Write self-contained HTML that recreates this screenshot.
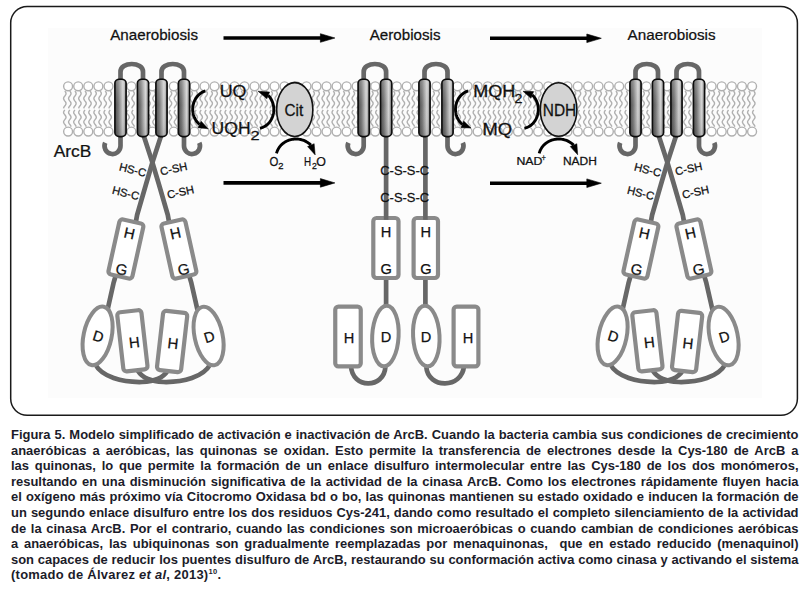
<!DOCTYPE html>
<html><head><meta charset="utf-8"><style>
html,body{margin:0;padding:0;background:#fff;width:807px;height:590px;overflow:hidden;position:relative}
.cap{position:absolute;left:11px;top:0;width:786px;font-family:"Liberation Sans",sans-serif;font-weight:bold;font-size:12px;line-height:15.6px;color:#1c1c2a;letter-spacing:0px}
.l{position:absolute;left:0;top:0;text-align:justify;text-align-last:justify;white-space:nowrap;height:15.6px;width:730.52px;transform:scaleX(1.078);transform-origin:0 0}
.l.last{text-align-last:left;letter-spacing:0.25px}
.cap sup{font-size:7px;vertical-align:5px;line-height:0}
</style></head><body>
<svg width="807" height="420" viewBox="0 0 807 420" style="position:absolute;left:0;top:0"><defs><linearGradient id="hg" x1="0" x2="1" y1="0" y2="0"><stop offset="0" stop-color="#4a4a4a"/><stop offset="0.3" stop-color="#767676"/><stop offset="0.72" stop-color="#d2d2d2"/><stop offset="0.88" stop-color="#a8a8a8"/><stop offset="1" stop-color="#505050"/></linearGradient><linearGradient id="hv" x1="0" x2="0" y1="0" y2="1"><stop offset="0" stop-color="#fff" stop-opacity="0.22"/><stop offset="0.45" stop-color="#fff" stop-opacity="0"/><stop offset="1" stop-color="#000" stop-opacity="0.12"/></linearGradient></defs><rect x="10.7" y="6.5" width="786.7" height="408.8" rx="16.5" fill="#fff" stroke="#1a1a1a" stroke-width="1.5"/><rect x="48" y="28" width="714" height="370" fill="#fcfcfc"/><g fill="#fff" stroke="#b0b0b0" stroke-width="1.4"><circle cx="68.1" cy="86.3" r="4.45"/><circle cx="68.1" cy="131.55" r="4.45"/><path d="M64.8,91.05 L65.59,92.13 L66.03,93.22 L65.9,94.3 L65.28,95.39 L64.44,96.47 L63.76,97.56 L63.56,98.64 L63.92,99.72 L64.68,100.81 L65.49,101.89 L66,102.98 L65.95,104.06 L65.39,105.15 L64.56,106.23 L63.83,107.32 L63.55,108.4 M64.8,110 L64.01,111.05 L63.57,112.1 L63.7,113.15 L64.32,114.2 L65.16,115.25 L65.84,116.3 L66.04,117.35 L65.68,118.4 L64.92,119.45 L64.11,120.5 L63.6,121.55 L63.65,122.6 L64.21,123.65 L65.04,124.7 L65.77,125.75 L66.05,126.8 M69.8,91.05 L70.59,92.13 L71.03,93.22 L70.9,94.3 L70.28,95.39 L69.44,96.47 L68.76,97.56 L68.56,98.64 L68.92,99.72 L69.68,100.81 L70.49,101.89 L71,102.98 L70.95,104.06 L70.39,105.15 L69.56,106.23 L68.83,107.32 L68.55,108.4 M69.8,110 L69.01,111.05 L68.57,112.1 L68.7,113.15 L69.32,114.2 L70.16,115.25 L70.84,116.3 L71.04,117.35 L70.68,118.4 L69.92,119.45 L69.11,120.5 L68.6,121.55 L68.65,122.6 L69.21,123.65 L70.04,124.7 L70.77,125.75 L71.05,126.8" fill="none"/><circle cx="78.2" cy="86.3" r="4.45"/><circle cx="78.2" cy="131.55" r="4.45"/><path d="M74.9,91.05 L75.69,92.13 L76.13,93.22 L76,94.3 L75.38,95.39 L74.54,96.47 L73.86,97.56 L73.66,98.64 L74.02,99.72 L74.78,100.81 L75.59,101.89 L76.1,102.98 L76.05,104.06 L75.49,105.15 L74.66,106.23 L73.93,107.32 L73.65,108.4 M74.9,110 L74.11,111.05 L73.67,112.1 L73.8,113.15 L74.42,114.2 L75.26,115.25 L75.94,116.3 L76.14,117.35 L75.78,118.4 L75.02,119.45 L74.21,120.5 L73.7,121.55 L73.75,122.6 L74.31,123.65 L75.14,124.7 L75.87,125.75 L76.15,126.8 M79.9,91.05 L80.69,92.13 L81.13,93.22 L81,94.3 L80.38,95.39 L79.54,96.47 L78.86,97.56 L78.66,98.64 L79.02,99.72 L79.78,100.81 L80.59,101.89 L81.1,102.98 L81.05,104.06 L80.49,105.15 L79.66,106.23 L78.93,107.32 L78.65,108.4 M79.9,110 L79.11,111.05 L78.67,112.1 L78.8,113.15 L79.42,114.2 L80.26,115.25 L80.94,116.3 L81.14,117.35 L80.78,118.4 L80.02,119.45 L79.21,120.5 L78.7,121.55 L78.75,122.6 L79.31,123.65 L80.14,124.7 L80.87,125.75 L81.15,126.8" fill="none"/><circle cx="88.3" cy="86.3" r="4.45"/><circle cx="88.3" cy="131.55" r="4.45"/><path d="M85,91.05 L85.79,92.13 L86.23,93.22 L86.1,94.3 L85.48,95.39 L84.64,96.47 L83.96,97.56 L83.76,98.64 L84.12,99.72 L84.88,100.81 L85.69,101.89 L86.2,102.98 L86.15,104.06 L85.59,105.15 L84.76,106.23 L84.03,107.32 L83.75,108.4 M85,110 L84.21,111.05 L83.77,112.1 L83.9,113.15 L84.52,114.2 L85.36,115.25 L86.04,116.3 L86.24,117.35 L85.88,118.4 L85.12,119.45 L84.31,120.5 L83.8,121.55 L83.85,122.6 L84.41,123.65 L85.24,124.7 L85.97,125.75 L86.25,126.8 M90,91.05 L90.79,92.13 L91.23,93.22 L91.1,94.3 L90.48,95.39 L89.64,96.47 L88.96,97.56 L88.76,98.64 L89.12,99.72 L89.88,100.81 L90.69,101.89 L91.2,102.98 L91.15,104.06 L90.59,105.15 L89.76,106.23 L89.03,107.32 L88.75,108.4 M90,110 L89.21,111.05 L88.77,112.1 L88.9,113.15 L89.52,114.2 L90.36,115.25 L91.04,116.3 L91.24,117.35 L90.88,118.4 L90.12,119.45 L89.31,120.5 L88.8,121.55 L88.85,122.6 L89.41,123.65 L90.24,124.7 L90.97,125.75 L91.25,126.8" fill="none"/><circle cx="98.4" cy="86.3" r="4.45"/><circle cx="98.4" cy="131.55" r="4.45"/><path d="M95.1,91.05 L95.89,92.13 L96.33,93.22 L96.2,94.3 L95.58,95.39 L94.74,96.47 L94.06,97.56 L93.86,98.64 L94.22,99.72 L94.98,100.81 L95.79,101.89 L96.3,102.98 L96.25,104.06 L95.69,105.15 L94.86,106.23 L94.13,107.32 L93.85,108.4 M95.1,110 L94.31,111.05 L93.87,112.1 L94,113.15 L94.62,114.2 L95.46,115.25 L96.14,116.3 L96.34,117.35 L95.98,118.4 L95.22,119.45 L94.41,120.5 L93.9,121.55 L93.95,122.6 L94.51,123.65 L95.34,124.7 L96.07,125.75 L96.35,126.8 M100.1,91.05 L100.89,92.13 L101.33,93.22 L101.2,94.3 L100.58,95.39 L99.74,96.47 L99.06,97.56 L98.86,98.64 L99.22,99.72 L99.98,100.81 L100.79,101.89 L101.3,102.98 L101.25,104.06 L100.69,105.15 L99.86,106.23 L99.13,107.32 L98.85,108.4 M100.1,110 L99.31,111.05 L98.87,112.1 L99,113.15 L99.62,114.2 L100.46,115.25 L101.14,116.3 L101.34,117.35 L100.98,118.4 L100.22,119.45 L99.41,120.5 L98.9,121.55 L98.95,122.6 L99.51,123.65 L100.34,124.7 L101.07,125.75 L101.35,126.8" fill="none"/><circle cx="108.5" cy="86.3" r="4.45"/><circle cx="108.5" cy="131.55" r="4.45"/><path d="M105.2,91.05 L105.99,92.13 L106.43,93.22 L106.3,94.3 L105.68,95.39 L104.84,96.47 L104.16,97.56 L103.96,98.64 L104.32,99.72 L105.08,100.81 L105.89,101.89 L106.4,102.98 L106.35,104.06 L105.79,105.15 L104.96,106.23 L104.23,107.32 L103.95,108.4 M105.2,110 L104.41,111.05 L103.97,112.1 L104.1,113.15 L104.72,114.2 L105.56,115.25 L106.24,116.3 L106.44,117.35 L106.08,118.4 L105.32,119.45 L104.51,120.5 L104,121.55 L104.05,122.6 L104.61,123.65 L105.44,124.7 L106.17,125.75 L106.45,126.8 M110.2,91.05 L110.99,92.13 L111.43,93.22 L111.3,94.3 L110.68,95.39 L109.84,96.47 L109.16,97.56 L108.96,98.64 L109.32,99.72 L110.08,100.81 L110.89,101.89 L111.4,102.98 L111.35,104.06 L110.79,105.15 L109.96,106.23 L109.23,107.32 L108.95,108.4 M110.2,110 L109.41,111.05 L108.97,112.1 L109.1,113.15 L109.72,114.2 L110.56,115.25 L111.24,116.3 L111.44,117.35 L111.08,118.4 L110.32,119.45 L109.51,120.5 L109,121.55 L109.05,122.6 L109.61,123.65 L110.44,124.7 L111.17,125.75 L111.45,126.8" fill="none"/><circle cx="131.4" cy="86.3" r="4.45"/><circle cx="131.4" cy="131.55" r="4.45"/><path d="M128.1,91.05 L128.89,92.13 L129.33,93.22 L129.2,94.3 L128.58,95.39 L127.74,96.47 L127.06,97.56 L126.86,98.64 L127.22,99.72 L127.98,100.81 L128.79,101.89 L129.3,102.98 L129.25,104.06 L128.69,105.15 L127.86,106.23 L127.13,107.32 L126.85,108.4 M128.1,110 L127.31,111.05 L126.87,112.1 L127,113.15 L127.62,114.2 L128.46,115.25 L129.14,116.3 L129.34,117.35 L128.98,118.4 L128.22,119.45 L127.41,120.5 L126.9,121.55 L126.95,122.6 L127.51,123.65 L128.34,124.7 L129.07,125.75 L129.35,126.8 M133.1,91.05 L133.89,92.13 L134.33,93.22 L134.2,94.3 L133.58,95.39 L132.74,96.47 L132.06,97.56 L131.86,98.64 L132.22,99.72 L132.98,100.81 L133.79,101.89 L134.3,102.98 L134.25,104.06 L133.69,105.15 L132.86,106.23 L132.13,107.32 L131.85,108.4 M133.1,110 L132.31,111.05 L131.87,112.1 L132,113.15 L132.62,114.2 L133.46,115.25 L134.14,116.3 L134.34,117.35 L133.98,118.4 L133.22,119.45 L132.41,120.5 L131.9,121.55 L131.95,122.6 L132.51,123.65 L133.34,124.7 L134.07,125.75 L134.35,126.8" fill="none"/><circle cx="152.3" cy="86.3" r="4.45"/><circle cx="152.3" cy="131.55" r="4.45"/><path d="M149,91.05 L149.79,92.13 L150.23,93.22 L150.1,94.3 L149.48,95.39 L148.64,96.47 L147.96,97.56 L147.76,98.64 L148.12,99.72 L148.88,100.81 L149.69,101.89 L150.2,102.98 L150.15,104.06 L149.59,105.15 L148.76,106.23 L148.03,107.32 L147.75,108.4 M149,110 L148.21,111.05 L147.77,112.1 L147.9,113.15 L148.52,114.2 L149.36,115.25 L150.04,116.3 L150.24,117.35 L149.88,118.4 L149.12,119.45 L148.31,120.5 L147.8,121.55 L147.85,122.6 L148.41,123.65 L149.24,124.7 L149.97,125.75 L150.25,126.8 M154,91.05 L154.79,92.13 L155.23,93.22 L155.1,94.3 L154.48,95.39 L153.64,96.47 L152.96,97.56 L152.76,98.64 L153.12,99.72 L153.88,100.81 L154.69,101.89 L155.2,102.98 L155.15,104.06 L154.59,105.15 L153.76,106.23 L153.03,107.32 L152.75,108.4 M154,110 L153.21,111.05 L152.77,112.1 L152.9,113.15 L153.52,114.2 L154.36,115.25 L155.04,116.3 L155.24,117.35 L154.88,118.4 L154.12,119.45 L153.31,120.5 L152.8,121.55 L152.85,122.6 L153.41,123.65 L154.24,124.7 L154.97,125.75 L155.25,126.8" fill="none"/><circle cx="173.8" cy="86.3" r="4.45"/><circle cx="173.8" cy="131.55" r="4.45"/><path d="M170.5,91.05 L171.29,92.13 L171.73,93.22 L171.6,94.3 L170.98,95.39 L170.14,96.47 L169.46,97.56 L169.26,98.64 L169.62,99.72 L170.38,100.81 L171.19,101.89 L171.7,102.98 L171.65,104.06 L171.09,105.15 L170.26,106.23 L169.53,107.32 L169.25,108.4 M170.5,110 L169.71,111.05 L169.27,112.1 L169.4,113.15 L170.02,114.2 L170.86,115.25 L171.54,116.3 L171.74,117.35 L171.38,118.4 L170.62,119.45 L169.81,120.5 L169.3,121.55 L169.35,122.6 L169.91,123.65 L170.74,124.7 L171.47,125.75 L171.75,126.8 M175.5,91.05 L176.29,92.13 L176.73,93.22 L176.6,94.3 L175.98,95.39 L175.14,96.47 L174.46,97.56 L174.26,98.64 L174.62,99.72 L175.38,100.81 L176.19,101.89 L176.7,102.98 L176.65,104.06 L176.09,105.15 L175.26,106.23 L174.53,107.32 L174.25,108.4 M175.5,110 L174.71,111.05 L174.27,112.1 L174.4,113.15 L175.02,114.2 L175.86,115.25 L176.54,116.3 L176.74,117.35 L176.38,118.4 L175.62,119.45 L174.81,120.5 L174.3,121.55 L174.35,122.6 L174.91,123.65 L175.74,124.7 L176.47,125.75 L176.75,126.8" fill="none"/><circle cx="194.5" cy="86.3" r="4.45"/><circle cx="194.5" cy="131.55" r="4.45"/><path d="M191.2,91.05 L191.99,92.13 L192.43,93.22 L192.3,94.3 L191.68,95.39 L190.84,96.47 L190.16,97.56 L189.96,98.64 L190.32,99.72 L191.08,100.81 L191.89,101.89 L192.4,102.98 L192.35,104.06 L191.79,105.15 L190.96,106.23 L190.23,107.32 L189.95,108.4 M191.2,110 L190.41,111.05 L189.97,112.1 L190.1,113.15 L190.72,114.2 L191.56,115.25 L192.24,116.3 L192.44,117.35 L192.08,118.4 L191.32,119.45 L190.51,120.5 L190,121.55 L190.05,122.6 L190.61,123.65 L191.44,124.7 L192.17,125.75 L192.45,126.8 M196.2,91.05 L196.99,92.13 L197.43,93.22 L197.3,94.3 L196.68,95.39 L195.84,96.47 L195.16,97.56 L194.96,98.64 L195.32,99.72 L196.08,100.81 L196.89,101.89 L197.4,102.98 L197.35,104.06 L196.79,105.15 L195.96,106.23 L195.23,107.32 L194.95,108.4 M196.2,110 L195.41,111.05 L194.97,112.1 L195.1,113.15 L195.72,114.2 L196.56,115.25 L197.24,116.3 L197.44,117.35 L197.08,118.4 L196.32,119.45 L195.51,120.5 L195,121.55 L195.05,122.6 L195.61,123.65 L196.44,124.7 L197.17,125.75 L197.45,126.8" fill="none"/><circle cx="204.5" cy="86.3" r="4.45"/><circle cx="204.5" cy="131.55" r="4.45"/><path d="M201.2,91.05 L201.99,92.13 L202.43,93.22 L202.3,94.3 L201.68,95.39 L200.84,96.47 L200.16,97.56 L199.96,98.64 L200.32,99.72 L201.08,100.81 L201.89,101.89 L202.4,102.98 L202.35,104.06 L201.79,105.15 L200.96,106.23 L200.23,107.32 L199.95,108.4 M201.2,110 L200.41,111.05 L199.97,112.1 L200.1,113.15 L200.72,114.2 L201.56,115.25 L202.24,116.3 L202.44,117.35 L202.08,118.4 L201.32,119.45 L200.51,120.5 L200,121.55 L200.05,122.6 L200.61,123.65 L201.44,124.7 L202.17,125.75 L202.45,126.8 M206.2,91.05 L206.99,92.13 L207.43,93.22 L207.3,94.3 L206.68,95.39 L205.84,96.47 L205.16,97.56 L204.96,98.64 L205.32,99.72 L206.08,100.81 L206.89,101.89 L207.4,102.98 L207.35,104.06 L206.79,105.15 L205.96,106.23 L205.23,107.32 L204.95,108.4 M206.2,110 L205.41,111.05 L204.97,112.1 L205.1,113.15 L205.72,114.2 L206.56,115.25 L207.24,116.3 L207.44,117.35 L207.08,118.4 L206.32,119.45 L205.51,120.5 L205,121.55 L205.05,122.6 L205.61,123.65 L206.44,124.7 L207.17,125.75 L207.45,126.8" fill="none"/><circle cx="214.5" cy="86.3" r="4.45"/><circle cx="214.5" cy="131.55" r="4.45"/><path d="M211.2,91.05 L211.99,92.13 L212.43,93.22 L212.3,94.3 L211.68,95.39 L210.84,96.47 L210.16,97.56 L209.96,98.64 L210.32,99.72 L211.08,100.81 L211.89,101.89 L212.4,102.98 L212.35,104.06 L211.79,105.15 L210.96,106.23 L210.23,107.32 L209.95,108.4 M211.2,110 L210.41,111.05 L209.97,112.1 L210.1,113.15 L210.72,114.2 L211.56,115.25 L212.24,116.3 L212.44,117.35 L212.08,118.4 L211.32,119.45 L210.51,120.5 L210,121.55 L210.05,122.6 L210.61,123.65 L211.44,124.7 L212.17,125.75 L212.45,126.8 M216.2,91.05 L216.99,92.13 L217.43,93.22 L217.3,94.3 L216.68,95.39 L215.84,96.47 L215.16,97.56 L214.96,98.64 L215.32,99.72 L216.08,100.81 L216.89,101.89 L217.4,102.98 L217.35,104.06 L216.79,105.15 L215.96,106.23 L215.23,107.32 L214.95,108.4 M216.2,110 L215.41,111.05 L214.97,112.1 L215.1,113.15 L215.72,114.2 L216.56,115.25 L217.24,116.3 L217.44,117.35 L217.08,118.4 L216.32,119.45 L215.51,120.5 L215,121.55 L215.05,122.6 L215.61,123.65 L216.44,124.7 L217.17,125.75 L217.45,126.8" fill="none"/><circle cx="224.5" cy="86.3" r="4.45"/><circle cx="224.5" cy="131.55" r="4.45"/><path d="M221.2,91.05 L221.99,92.13 L222.43,93.22 L222.3,94.3 L221.68,95.39 L220.84,96.47 L220.16,97.56 L219.96,98.64 L220.32,99.72 L221.08,100.81 L221.89,101.89 L222.4,102.98 L222.35,104.06 L221.79,105.15 L220.96,106.23 L220.23,107.32 L219.95,108.4 M221.2,110 L220.41,111.05 L219.97,112.1 L220.1,113.15 L220.72,114.2 L221.56,115.25 L222.24,116.3 L222.44,117.35 L222.08,118.4 L221.32,119.45 L220.51,120.5 L220,121.55 L220.05,122.6 L220.61,123.65 L221.44,124.7 L222.17,125.75 L222.45,126.8 M226.2,91.05 L226.99,92.13 L227.43,93.22 L227.3,94.3 L226.68,95.39 L225.84,96.47 L225.16,97.56 L224.96,98.64 L225.32,99.72 L226.08,100.81 L226.89,101.89 L227.4,102.98 L227.35,104.06 L226.79,105.15 L225.96,106.23 L225.23,107.32 L224.95,108.4 M226.2,110 L225.41,111.05 L224.97,112.1 L225.1,113.15 L225.72,114.2 L226.56,115.25 L227.24,116.3 L227.44,117.35 L227.08,118.4 L226.32,119.45 L225.51,120.5 L225,121.55 L225.05,122.6 L225.61,123.65 L226.44,124.7 L227.17,125.75 L227.45,126.8" fill="none"/><circle cx="234.5" cy="86.3" r="4.45"/><circle cx="234.5" cy="131.55" r="4.45"/><path d="M231.2,91.05 L231.99,92.13 L232.43,93.22 L232.3,94.3 L231.68,95.39 L230.84,96.47 L230.16,97.56 L229.96,98.64 L230.32,99.72 L231.08,100.81 L231.89,101.89 L232.4,102.98 L232.35,104.06 L231.79,105.15 L230.96,106.23 L230.23,107.32 L229.95,108.4 M231.2,110 L230.41,111.05 L229.97,112.1 L230.1,113.15 L230.72,114.2 L231.56,115.25 L232.24,116.3 L232.44,117.35 L232.08,118.4 L231.32,119.45 L230.51,120.5 L230,121.55 L230.05,122.6 L230.61,123.65 L231.44,124.7 L232.17,125.75 L232.45,126.8 M236.2,91.05 L236.99,92.13 L237.43,93.22 L237.3,94.3 L236.68,95.39 L235.84,96.47 L235.16,97.56 L234.96,98.64 L235.32,99.72 L236.08,100.81 L236.89,101.89 L237.4,102.98 L237.35,104.06 L236.79,105.15 L235.96,106.23 L235.23,107.32 L234.95,108.4 M236.2,110 L235.41,111.05 L234.97,112.1 L235.1,113.15 L235.72,114.2 L236.56,115.25 L237.24,116.3 L237.44,117.35 L237.08,118.4 L236.32,119.45 L235.51,120.5 L235,121.55 L235.05,122.6 L235.61,123.65 L236.44,124.7 L237.17,125.75 L237.45,126.8" fill="none"/><circle cx="244.5" cy="86.3" r="4.45"/><circle cx="244.5" cy="131.55" r="4.45"/><path d="M241.2,91.05 L241.99,92.13 L242.43,93.22 L242.3,94.3 L241.68,95.39 L240.84,96.47 L240.16,97.56 L239.96,98.64 L240.32,99.72 L241.08,100.81 L241.89,101.89 L242.4,102.98 L242.35,104.06 L241.79,105.15 L240.96,106.23 L240.23,107.32 L239.95,108.4 M241.2,110 L240.41,111.05 L239.97,112.1 L240.1,113.15 L240.72,114.2 L241.56,115.25 L242.24,116.3 L242.44,117.35 L242.08,118.4 L241.32,119.45 L240.51,120.5 L240,121.55 L240.05,122.6 L240.61,123.65 L241.44,124.7 L242.17,125.75 L242.45,126.8 M246.2,91.05 L246.99,92.13 L247.43,93.22 L247.3,94.3 L246.68,95.39 L245.84,96.47 L245.16,97.56 L244.96,98.64 L245.32,99.72 L246.08,100.81 L246.89,101.89 L247.4,102.98 L247.35,104.06 L246.79,105.15 L245.96,106.23 L245.23,107.32 L244.95,108.4 M246.2,110 L245.41,111.05 L244.97,112.1 L245.1,113.15 L245.72,114.2 L246.56,115.25 L247.24,116.3 L247.44,117.35 L247.08,118.4 L246.32,119.45 L245.51,120.5 L245,121.55 L245.05,122.6 L245.61,123.65 L246.44,124.7 L247.17,125.75 L247.45,126.8" fill="none"/><circle cx="254.5" cy="86.3" r="4.45"/><circle cx="254.5" cy="131.55" r="4.45"/><path d="M251.2,91.05 L251.99,92.13 L252.43,93.22 L252.3,94.3 L251.68,95.39 L250.84,96.47 L250.16,97.56 L249.96,98.64 L250.32,99.72 L251.08,100.81 L251.89,101.89 L252.4,102.98 L252.35,104.06 L251.79,105.15 L250.96,106.23 L250.23,107.32 L249.95,108.4 M251.2,110 L250.41,111.05 L249.97,112.1 L250.1,113.15 L250.72,114.2 L251.56,115.25 L252.24,116.3 L252.44,117.35 L252.08,118.4 L251.32,119.45 L250.51,120.5 L250,121.55 L250.05,122.6 L250.61,123.65 L251.44,124.7 L252.17,125.75 L252.45,126.8 M256.2,91.05 L256.99,92.13 L257.43,93.22 L257.3,94.3 L256.68,95.39 L255.84,96.47 L255.16,97.56 L254.96,98.64 L255.32,99.72 L256.08,100.81 L256.89,101.89 L257.4,102.98 L257.35,104.06 L256.79,105.15 L255.96,106.23 L255.23,107.32 L254.95,108.4 M256.2,110 L255.41,111.05 L254.97,112.1 L255.1,113.15 L255.72,114.2 L256.56,115.25 L257.24,116.3 L257.44,117.35 L257.08,118.4 L256.32,119.45 L255.51,120.5 L255,121.55 L255.05,122.6 L255.61,123.65 L256.44,124.7 L257.17,125.75 L257.45,126.8" fill="none"/><circle cx="264.5" cy="86.3" r="4.45"/><circle cx="264.5" cy="131.55" r="4.45"/><path d="M261.2,91.05 L261.99,92.13 L262.43,93.22 L262.3,94.3 L261.68,95.39 L260.84,96.47 L260.16,97.56 L259.96,98.64 L260.32,99.72 L261.08,100.81 L261.89,101.89 L262.4,102.98 L262.35,104.06 L261.79,105.15 L260.96,106.23 L260.23,107.32 L259.95,108.4 M261.2,110 L260.41,111.05 L259.97,112.1 L260.1,113.15 L260.72,114.2 L261.56,115.25 L262.24,116.3 L262.44,117.35 L262.08,118.4 L261.32,119.45 L260.51,120.5 L260,121.55 L260.05,122.6 L260.61,123.65 L261.44,124.7 L262.17,125.75 L262.45,126.8 M266.2,91.05 L266.99,92.13 L267.43,93.22 L267.3,94.3 L266.68,95.39 L265.84,96.47 L265.16,97.56 L264.96,98.64 L265.32,99.72 L266.08,100.81 L266.89,101.89 L267.4,102.98 L267.35,104.06 L266.79,105.15 L265.96,106.23 L265.23,107.32 L264.95,108.4 M266.2,110 L265.41,111.05 L264.97,112.1 L265.1,113.15 L265.72,114.2 L266.56,115.25 L267.24,116.3 L267.44,117.35 L267.08,118.4 L266.32,119.45 L265.51,120.5 L265,121.55 L265.05,122.6 L265.61,123.65 L266.44,124.7 L267.17,125.75 L267.45,126.8" fill="none"/><circle cx="274.5" cy="86.3" r="4.45"/><circle cx="274.5" cy="131.55" r="4.45"/><path d="M271.2,91.05 L271.99,92.13 L272.43,93.22 L272.3,94.3 L271.68,95.39 L270.84,96.47 L270.16,97.56 L269.96,98.64 L270.32,99.72 L271.08,100.81 L271.89,101.89 L272.4,102.98 L272.35,104.06 L271.79,105.15 L270.96,106.23 L270.23,107.32 L269.95,108.4 M271.2,110 L270.41,111.05 L269.97,112.1 L270.1,113.15 L270.72,114.2 L271.56,115.25 L272.24,116.3 L272.44,117.35 L272.08,118.4 L271.32,119.45 L270.51,120.5 L270,121.55 L270.05,122.6 L270.61,123.65 L271.44,124.7 L272.17,125.75 L272.45,126.8 M276.2,91.05 L276.99,92.13 L277.43,93.22 L277.3,94.3 L276.68,95.39 L275.84,96.47 L275.16,97.56 L274.96,98.64 L275.32,99.72 L276.08,100.81 L276.89,101.89 L277.4,102.98 L277.35,104.06 L276.79,105.15 L275.96,106.23 L275.23,107.32 L274.95,108.4 M276.2,110 L275.41,111.05 L274.97,112.1 L275.1,113.15 L275.72,114.2 L276.56,115.25 L277.24,116.3 L277.44,117.35 L277.08,118.4 L276.32,119.45 L275.51,120.5 L275,121.55 L275.05,122.6 L275.61,123.65 L276.44,124.7 L277.17,125.75 L277.45,126.8" fill="none"/><circle cx="284.5" cy="86.3" r="4.45"/><circle cx="284.5" cy="131.55" r="4.45"/><path d="M281.2,91.05 L281.99,92.13 L282.43,93.22 L282.3,94.3 L281.68,95.39 L280.84,96.47 L280.16,97.56 L279.96,98.64 L280.32,99.72 L281.08,100.81 L281.89,101.89 L282.4,102.98 L282.35,104.06 L281.79,105.15 L280.96,106.23 L280.23,107.32 L279.95,108.4 M281.2,110 L280.41,111.05 L279.97,112.1 L280.1,113.15 L280.72,114.2 L281.56,115.25 L282.24,116.3 L282.44,117.35 L282.08,118.4 L281.32,119.45 L280.51,120.5 L280,121.55 L280.05,122.6 L280.61,123.65 L281.44,124.7 L282.17,125.75 L282.45,126.8 M286.2,91.05 L286.99,92.13 L287.43,93.22 L287.3,94.3 L286.68,95.39 L285.84,96.47 L285.16,97.56 L284.96,98.64 L285.32,99.72 L286.08,100.81 L286.89,101.89 L287.4,102.98 L287.35,104.06 L286.79,105.15 L285.96,106.23 L285.23,107.32 L284.95,108.4 M286.2,110 L285.41,111.05 L284.97,112.1 L285.1,113.15 L285.72,114.2 L286.56,115.25 L287.24,116.3 L287.44,117.35 L287.08,118.4 L286.32,119.45 L285.51,120.5 L285,121.55 L285.05,122.6 L285.61,123.65 L286.44,124.7 L287.17,125.75 L287.45,126.8" fill="none"/><circle cx="294.5" cy="86.3" r="4.45"/><circle cx="294.5" cy="131.55" r="4.45"/><path d="M291.2,91.05 L291.99,92.13 L292.43,93.22 L292.3,94.3 L291.68,95.39 L290.84,96.47 L290.16,97.56 L289.96,98.64 L290.32,99.72 L291.08,100.81 L291.89,101.89 L292.4,102.98 L292.35,104.06 L291.79,105.15 L290.96,106.23 L290.23,107.32 L289.95,108.4 M291.2,110 L290.41,111.05 L289.97,112.1 L290.1,113.15 L290.72,114.2 L291.56,115.25 L292.24,116.3 L292.44,117.35 L292.08,118.4 L291.32,119.45 L290.51,120.5 L290,121.55 L290.05,122.6 L290.61,123.65 L291.44,124.7 L292.17,125.75 L292.45,126.8 M296.2,91.05 L296.99,92.13 L297.43,93.22 L297.3,94.3 L296.68,95.39 L295.84,96.47 L295.16,97.56 L294.96,98.64 L295.32,99.72 L296.08,100.81 L296.89,101.89 L297.4,102.98 L297.35,104.06 L296.79,105.15 L295.96,106.23 L295.23,107.32 L294.95,108.4 M296.2,110 L295.41,111.05 L294.97,112.1 L295.1,113.15 L295.72,114.2 L296.56,115.25 L297.24,116.3 L297.44,117.35 L297.08,118.4 L296.32,119.45 L295.51,120.5 L295,121.55 L295.05,122.6 L295.61,123.65 L296.44,124.7 L297.17,125.75 L297.45,126.8" fill="none"/><circle cx="296.44" cy="86.3" r="4.45"/><circle cx="296.44" cy="131.55" r="4.45"/><path d="M293.14,91.05 L293.93,92.13 L294.37,93.22 L294.24,94.3 L293.62,95.39 L292.78,96.47 L292.1,97.56 L291.9,98.64 L292.26,99.72 L293.02,100.81 L293.83,101.89 L294.34,102.98 L294.29,104.06 L293.73,105.15 L292.9,106.23 L292.17,107.32 L291.89,108.4 M293.14,110 L292.35,111.05 L291.91,112.1 L292.04,113.15 L292.66,114.2 L293.5,115.25 L294.18,116.3 L294.38,117.35 L294.02,118.4 L293.26,119.45 L292.45,120.5 L291.94,121.55 L291.99,122.6 L292.55,123.65 L293.38,124.7 L294.11,125.75 L294.39,126.8 M298.14,91.05 L298.93,92.13 L299.37,93.22 L299.24,94.3 L298.62,95.39 L297.78,96.47 L297.1,97.56 L296.9,98.64 L297.26,99.72 L298.02,100.81 L298.83,101.89 L299.34,102.98 L299.29,104.06 L298.73,105.15 L297.9,106.23 L297.17,107.32 L296.89,108.4 M298.14,110 L297.35,111.05 L296.91,112.1 L297.04,113.15 L297.66,114.2 L298.5,115.25 L299.18,116.3 L299.38,117.35 L299.02,118.4 L298.26,119.45 L297.45,120.5 L296.94,121.55 L296.99,122.6 L297.55,123.65 L298.38,124.7 L299.11,125.75 L299.39,126.8" fill="none"/><circle cx="306.47" cy="86.3" r="4.45"/><circle cx="306.47" cy="131.55" r="4.45"/><path d="M303.17,91.05 L303.96,92.13 L304.4,93.22 L304.27,94.3 L303.65,95.39 L302.81,96.47 L302.13,97.56 L301.93,98.64 L302.29,99.72 L303.05,100.81 L303.86,101.89 L304.37,102.98 L304.32,104.06 L303.76,105.15 L302.93,106.23 L302.2,107.32 L301.92,108.4 M303.17,110 L302.38,111.05 L301.94,112.1 L302.07,113.15 L302.69,114.2 L303.53,115.25 L304.21,116.3 L304.41,117.35 L304.05,118.4 L303.29,119.45 L302.48,120.5 L301.97,121.55 L302.02,122.6 L302.58,123.65 L303.41,124.7 L304.14,125.75 L304.42,126.8 M308.17,91.05 L308.96,92.13 L309.4,93.22 L309.27,94.3 L308.65,95.39 L307.81,96.47 L307.13,97.56 L306.93,98.64 L307.29,99.72 L308.05,100.81 L308.86,101.89 L309.37,102.98 L309.32,104.06 L308.76,105.15 L307.93,106.23 L307.2,107.32 L306.92,108.4 M308.17,110 L307.38,111.05 L306.94,112.1 L307.07,113.15 L307.69,114.2 L308.53,115.25 L309.21,116.3 L309.41,117.35 L309.05,118.4 L308.29,119.45 L307.48,120.5 L306.97,121.55 L307.02,122.6 L307.58,123.65 L308.41,124.7 L309.14,125.75 L309.42,126.8" fill="none"/><circle cx="316.5" cy="86.3" r="4.45"/><circle cx="316.5" cy="131.55" r="4.45"/><path d="M313.2,91.05 L313.99,92.13 L314.43,93.22 L314.3,94.3 L313.68,95.39 L312.84,96.47 L312.16,97.56 L311.96,98.64 L312.32,99.72 L313.08,100.81 L313.89,101.89 L314.4,102.98 L314.35,104.06 L313.79,105.15 L312.96,106.23 L312.23,107.32 L311.95,108.4 M313.2,110 L312.41,111.05 L311.97,112.1 L312.1,113.15 L312.72,114.2 L313.56,115.25 L314.24,116.3 L314.44,117.35 L314.08,118.4 L313.32,119.45 L312.51,120.5 L312,121.55 L312.05,122.6 L312.61,123.65 L313.44,124.7 L314.17,125.75 L314.45,126.8 M318.2,91.05 L318.99,92.13 L319.43,93.22 L319.3,94.3 L318.68,95.39 L317.84,96.47 L317.16,97.56 L316.96,98.64 L317.32,99.72 L318.08,100.81 L318.89,101.89 L319.4,102.98 L319.35,104.06 L318.79,105.15 L317.96,106.23 L317.23,107.32 L316.95,108.4 M318.2,110 L317.41,111.05 L316.97,112.1 L317.1,113.15 L317.72,114.2 L318.56,115.25 L319.24,116.3 L319.44,117.35 L319.08,118.4 L318.32,119.45 L317.51,120.5 L317,121.55 L317.05,122.6 L317.61,123.65 L318.44,124.7 L319.17,125.75 L319.45,126.8" fill="none"/><circle cx="326.53" cy="86.3" r="4.45"/><circle cx="326.53" cy="131.55" r="4.45"/><path d="M323.23,91.05 L324.02,92.13 L324.46,93.22 L324.33,94.3 L323.71,95.39 L322.87,96.47 L322.19,97.56 L321.99,98.64 L322.35,99.72 L323.11,100.81 L323.92,101.89 L324.43,102.98 L324.38,104.06 L323.82,105.15 L322.99,106.23 L322.26,107.32 L321.98,108.4 M323.23,110 L322.44,111.05 L322,112.1 L322.13,113.15 L322.75,114.2 L323.59,115.25 L324.27,116.3 L324.47,117.35 L324.11,118.4 L323.35,119.45 L322.54,120.5 L322.03,121.55 L322.08,122.6 L322.64,123.65 L323.47,124.7 L324.2,125.75 L324.48,126.8 M328.23,91.05 L329.02,92.13 L329.46,93.22 L329.33,94.3 L328.71,95.39 L327.87,96.47 L327.19,97.56 L326.99,98.64 L327.35,99.72 L328.11,100.81 L328.92,101.89 L329.43,102.98 L329.38,104.06 L328.82,105.15 L327.99,106.23 L327.26,107.32 L326.98,108.4 M328.23,110 L327.44,111.05 L327,112.1 L327.13,113.15 L327.75,114.2 L328.59,115.25 L329.27,116.3 L329.47,117.35 L329.11,118.4 L328.35,119.45 L327.54,120.5 L327.03,121.55 L327.08,122.6 L327.64,123.65 L328.47,124.7 L329.2,125.75 L329.48,126.8" fill="none"/><circle cx="336.56" cy="86.3" r="4.45"/><circle cx="336.56" cy="131.55" r="4.45"/><path d="M333.26,91.05 L334.05,92.13 L334.49,93.22 L334.36,94.3 L333.74,95.39 L332.9,96.47 L332.22,97.56 L332.02,98.64 L332.38,99.72 L333.14,100.81 L333.95,101.89 L334.46,102.98 L334.41,104.06 L333.85,105.15 L333.02,106.23 L332.29,107.32 L332.01,108.4 M333.26,110 L332.47,111.05 L332.03,112.1 L332.16,113.15 L332.78,114.2 L333.62,115.25 L334.3,116.3 L334.5,117.35 L334.14,118.4 L333.38,119.45 L332.57,120.5 L332.06,121.55 L332.11,122.6 L332.67,123.65 L333.5,124.7 L334.23,125.75 L334.51,126.8 M338.26,91.05 L339.05,92.13 L339.49,93.22 L339.36,94.3 L338.74,95.39 L337.9,96.47 L337.22,97.56 L337.02,98.64 L337.38,99.72 L338.14,100.81 L338.95,101.89 L339.46,102.98 L339.41,104.06 L338.85,105.15 L338.02,106.23 L337.29,107.32 L337.01,108.4 M338.26,110 L337.47,111.05 L337.03,112.1 L337.16,113.15 L337.78,114.2 L338.62,115.25 L339.3,116.3 L339.5,117.35 L339.14,118.4 L338.38,119.45 L337.57,120.5 L337.06,121.55 L337.11,122.6 L337.67,123.65 L338.5,124.7 L339.23,125.75 L339.51,126.8" fill="none"/><circle cx="346.59" cy="86.3" r="4.45"/><circle cx="346.59" cy="131.55" r="4.45"/><path d="M343.29,91.05 L344.08,92.13 L344.52,93.22 L344.39,94.3 L343.77,95.39 L342.93,96.47 L342.25,97.56 L342.05,98.64 L342.41,99.72 L343.17,100.81 L343.98,101.89 L344.49,102.98 L344.44,104.06 L343.88,105.15 L343.05,106.23 L342.32,107.32 L342.04,108.4 M343.29,110 L342.5,111.05 L342.06,112.1 L342.19,113.15 L342.81,114.2 L343.65,115.25 L344.33,116.3 L344.53,117.35 L344.17,118.4 L343.41,119.45 L342.6,120.5 L342.09,121.55 L342.14,122.6 L342.7,123.65 L343.53,124.7 L344.26,125.75 L344.54,126.8 M348.29,91.05 L349.08,92.13 L349.52,93.22 L349.39,94.3 L348.77,95.39 L347.93,96.47 L347.25,97.56 L347.05,98.64 L347.41,99.72 L348.17,100.81 L348.98,101.89 L349.49,102.98 L349.44,104.06 L348.88,105.15 L348.05,106.23 L347.32,107.32 L347.04,108.4 M348.29,110 L347.5,111.05 L347.06,112.1 L347.19,113.15 L347.81,114.2 L348.65,115.25 L349.33,116.3 L349.53,117.35 L349.17,118.4 L348.41,119.45 L347.6,120.5 L347.09,121.55 L347.14,122.6 L347.7,123.65 L348.53,124.7 L349.26,125.75 L349.54,126.8" fill="none"/><circle cx="356.62" cy="86.3" r="4.45"/><circle cx="356.62" cy="131.55" r="4.45"/><path d="M353.32,91.05 L354.11,92.13 L354.55,93.22 L354.42,94.3 L353.8,95.39 L352.96,96.47 L352.28,97.56 L352.08,98.64 L352.44,99.72 L353.2,100.81 L354.01,101.89 L354.52,102.98 L354.47,104.06 L353.91,105.15 L353.08,106.23 L352.35,107.32 L352.07,108.4 M353.32,110 L352.53,111.05 L352.09,112.1 L352.22,113.15 L352.84,114.2 L353.68,115.25 L354.36,116.3 L354.56,117.35 L354.2,118.4 L353.44,119.45 L352.63,120.5 L352.12,121.55 L352.17,122.6 L352.73,123.65 L353.56,124.7 L354.29,125.75 L354.57,126.8 M358.32,91.05 L359.11,92.13 L359.55,93.22 L359.42,94.3 L358.8,95.39 L357.96,96.47 L357.28,97.56 L357.08,98.64 L357.44,99.72 L358.2,100.81 L359.01,101.89 L359.52,102.98 L359.47,104.06 L358.91,105.15 L358.08,106.23 L357.35,107.32 L357.07,108.4 M358.32,110 L357.53,111.05 L357.09,112.1 L357.22,113.15 L357.84,114.2 L358.68,115.25 L359.36,116.3 L359.56,117.35 L359.2,118.4 L358.44,119.45 L357.63,120.5 L357.12,121.55 L357.17,122.6 L357.73,123.65 L358.56,124.7 L359.29,125.75 L359.57,126.8" fill="none"/><circle cx="366.65" cy="86.3" r="4.45"/><circle cx="366.65" cy="131.55" r="4.45"/><path d="M363.35,91.05 L364.14,92.13 L364.58,93.22 L364.45,94.3 L363.83,95.39 L362.99,96.47 L362.31,97.56 L362.11,98.64 L362.47,99.72 L363.23,100.81 L364.04,101.89 L364.55,102.98 L364.5,104.06 L363.94,105.15 L363.11,106.23 L362.38,107.32 L362.1,108.4 M363.35,110 L362.56,111.05 L362.12,112.1 L362.25,113.15 L362.87,114.2 L363.71,115.25 L364.39,116.3 L364.59,117.35 L364.23,118.4 L363.47,119.45 L362.66,120.5 L362.15,121.55 L362.2,122.6 L362.76,123.65 L363.59,124.7 L364.32,125.75 L364.6,126.8 M368.35,91.05 L369.14,92.13 L369.58,93.22 L369.45,94.3 L368.83,95.39 L367.99,96.47 L367.31,97.56 L367.11,98.64 L367.47,99.72 L368.23,100.81 L369.04,101.89 L369.55,102.98 L369.5,104.06 L368.94,105.15 L368.11,106.23 L367.38,107.32 L367.1,108.4 M368.35,110 L367.56,111.05 L367.12,112.1 L367.25,113.15 L367.87,114.2 L368.71,115.25 L369.39,116.3 L369.59,117.35 L369.23,118.4 L368.47,119.45 L367.66,120.5 L367.15,121.55 L367.2,122.6 L367.76,123.65 L368.59,124.7 L369.32,125.75 L369.6,126.8" fill="none"/><circle cx="375.2" cy="86.3" r="4.45"/><circle cx="375.2" cy="131.55" r="4.45"/><path d="M371.9,91.05 L372.69,92.13 L373.13,93.22 L373,94.3 L372.38,95.39 L371.54,96.47 L370.86,97.56 L370.66,98.64 L371.02,99.72 L371.78,100.81 L372.59,101.89 L373.1,102.98 L373.05,104.06 L372.49,105.15 L371.66,106.23 L370.93,107.32 L370.65,108.4 M371.9,110 L371.11,111.05 L370.67,112.1 L370.8,113.15 L371.42,114.2 L372.26,115.25 L372.94,116.3 L373.14,117.35 L372.78,118.4 L372.02,119.45 L371.21,120.5 L370.7,121.55 L370.75,122.6 L371.31,123.65 L372.14,124.7 L372.87,125.75 L373.15,126.8 M376.9,91.05 L377.69,92.13 L378.13,93.22 L378,94.3 L377.38,95.39 L376.54,96.47 L375.86,97.56 L375.66,98.64 L376.02,99.72 L376.78,100.81 L377.59,101.89 L378.1,102.98 L378.05,104.06 L377.49,105.15 L376.66,106.23 L375.93,107.32 L375.65,108.4 M376.9,110 L376.11,111.05 L375.67,112.1 L375.8,113.15 L376.42,114.2 L377.26,115.25 L377.94,116.3 L378.14,117.35 L377.78,118.4 L377.02,119.45 L376.21,120.5 L375.7,121.55 L375.75,122.6 L376.31,123.65 L377.14,124.7 L377.87,125.75 L378.15,126.8" fill="none"/><circle cx="386.9" cy="86.3" r="4.45"/><circle cx="386.9" cy="131.55" r="4.45"/><path d="M383.6,91.05 L384.39,92.13 L384.83,93.22 L384.7,94.3 L384.08,95.39 L383.24,96.47 L382.56,97.56 L382.36,98.64 L382.72,99.72 L383.48,100.81 L384.29,101.89 L384.8,102.98 L384.75,104.06 L384.19,105.15 L383.36,106.23 L382.63,107.32 L382.35,108.4 M383.6,110 L382.81,111.05 L382.37,112.1 L382.5,113.15 L383.12,114.2 L383.96,115.25 L384.64,116.3 L384.84,117.35 L384.48,118.4 L383.72,119.45 L382.91,120.5 L382.4,121.55 L382.45,122.6 L383.01,123.65 L383.84,124.7 L384.57,125.75 L384.85,126.8 M388.6,91.05 L389.39,92.13 L389.83,93.22 L389.7,94.3 L389.08,95.39 L388.24,96.47 L387.56,97.56 L387.36,98.64 L387.72,99.72 L388.48,100.81 L389.29,101.89 L389.8,102.98 L389.75,104.06 L389.19,105.15 L388.36,106.23 L387.63,107.32 L387.35,108.4 M388.6,110 L387.81,111.05 L387.37,112.1 L387.5,113.15 L388.12,114.2 L388.96,115.25 L389.64,116.3 L389.84,117.35 L389.48,118.4 L388.72,119.45 L387.91,120.5 L387.4,121.55 L387.45,122.6 L388.01,123.65 L388.84,124.7 L389.57,125.75 L389.85,126.8" fill="none"/><circle cx="396.8" cy="86.3" r="4.45"/><circle cx="396.8" cy="131.55" r="4.45"/><path d="M393.5,91.05 L394.29,92.13 L394.73,93.22 L394.6,94.3 L393.98,95.39 L393.14,96.47 L392.46,97.56 L392.26,98.64 L392.62,99.72 L393.38,100.81 L394.19,101.89 L394.7,102.98 L394.65,104.06 L394.09,105.15 L393.26,106.23 L392.53,107.32 L392.25,108.4 M393.5,110 L392.71,111.05 L392.27,112.1 L392.4,113.15 L393.02,114.2 L393.86,115.25 L394.54,116.3 L394.74,117.35 L394.38,118.4 L393.62,119.45 L392.81,120.5 L392.3,121.55 L392.35,122.6 L392.91,123.65 L393.74,124.7 L394.47,125.75 L394.75,126.8 M398.5,91.05 L399.29,92.13 L399.73,93.22 L399.6,94.3 L398.98,95.39 L398.14,96.47 L397.46,97.56 L397.26,98.64 L397.62,99.72 L398.38,100.81 L399.19,101.89 L399.7,102.98 L399.65,104.06 L399.09,105.15 L398.26,106.23 L397.53,107.32 L397.25,108.4 M398.5,110 L397.71,111.05 L397.27,112.1 L397.4,113.15 L398.02,114.2 L398.86,115.25 L399.54,116.3 L399.74,117.35 L399.38,118.4 L398.62,119.45 L397.81,120.5 L397.3,121.55 L397.35,122.6 L397.91,123.65 L398.74,124.7 L399.47,125.75 L399.75,126.8" fill="none"/><circle cx="406.7" cy="86.3" r="4.45"/><circle cx="406.7" cy="131.55" r="4.45"/><path d="M403.4,91.05 L404.19,92.13 L404.63,93.22 L404.5,94.3 L403.88,95.39 L403.04,96.47 L402.36,97.56 L402.16,98.64 L402.52,99.72 L403.28,100.81 L404.09,101.89 L404.6,102.98 L404.55,104.06 L403.99,105.15 L403.16,106.23 L402.43,107.32 L402.15,108.4 M403.4,110 L402.61,111.05 L402.17,112.1 L402.3,113.15 L402.92,114.2 L403.76,115.25 L404.44,116.3 L404.64,117.35 L404.28,118.4 L403.52,119.45 L402.71,120.5 L402.2,121.55 L402.25,122.6 L402.81,123.65 L403.64,124.7 L404.37,125.75 L404.65,126.8 M408.4,91.05 L409.19,92.13 L409.63,93.22 L409.5,94.3 L408.88,95.39 L408.04,96.47 L407.36,97.56 L407.16,98.64 L407.52,99.72 L408.28,100.81 L409.09,101.89 L409.6,102.98 L409.55,104.06 L408.99,105.15 L408.16,106.23 L407.43,107.32 L407.15,108.4 M408.4,110 L407.61,111.05 L407.17,112.1 L407.3,113.15 L407.92,114.2 L408.76,115.25 L409.44,116.3 L409.64,117.35 L409.28,118.4 L408.52,119.45 L407.71,120.5 L407.2,121.55 L407.25,122.6 L407.81,123.65 L408.64,124.7 L409.37,125.75 L409.65,126.8" fill="none"/><circle cx="416.6" cy="86.3" r="4.45"/><circle cx="416.6" cy="131.55" r="4.45"/><path d="M413.3,91.05 L414.09,92.13 L414.53,93.22 L414.4,94.3 L413.78,95.39 L412.94,96.47 L412.26,97.56 L412.06,98.64 L412.42,99.72 L413.18,100.81 L413.99,101.89 L414.5,102.98 L414.45,104.06 L413.89,105.15 L413.06,106.23 L412.33,107.32 L412.05,108.4 M413.3,110 L412.51,111.05 L412.07,112.1 L412.2,113.15 L412.82,114.2 L413.66,115.25 L414.34,116.3 L414.54,117.35 L414.18,118.4 L413.42,119.45 L412.61,120.5 L412.1,121.55 L412.15,122.6 L412.71,123.65 L413.54,124.7 L414.27,125.75 L414.55,126.8 M418.3,91.05 L419.09,92.13 L419.53,93.22 L419.4,94.3 L418.78,95.39 L417.94,96.47 L417.26,97.56 L417.06,98.64 L417.42,99.72 L418.18,100.81 L418.99,101.89 L419.5,102.98 L419.45,104.06 L418.89,105.15 L418.06,106.23 L417.33,107.32 L417.05,108.4 M418.3,110 L417.51,111.05 L417.07,112.1 L417.2,113.15 L417.82,114.2 L418.66,115.25 L419.34,116.3 L419.54,117.35 L419.18,118.4 L418.42,119.45 L417.61,120.5 L417.1,121.55 L417.15,122.6 L417.71,123.65 L418.54,124.7 L419.27,125.75 L419.55,126.8" fill="none"/><circle cx="436.4" cy="86.3" r="4.45"/><circle cx="436.4" cy="131.55" r="4.45"/><path d="M433.1,91.05 L433.89,92.13 L434.33,93.22 L434.2,94.3 L433.58,95.39 L432.74,96.47 L432.06,97.56 L431.86,98.64 L432.22,99.72 L432.98,100.81 L433.79,101.89 L434.3,102.98 L434.25,104.06 L433.69,105.15 L432.86,106.23 L432.13,107.32 L431.85,108.4 M433.1,110 L432.31,111.05 L431.87,112.1 L432,113.15 L432.62,114.2 L433.46,115.25 L434.14,116.3 L434.34,117.35 L433.98,118.4 L433.22,119.45 L432.41,120.5 L431.9,121.55 L431.95,122.6 L432.51,123.65 L433.34,124.7 L434.07,125.75 L434.35,126.8 M438.1,91.05 L438.89,92.13 L439.33,93.22 L439.2,94.3 L438.58,95.39 L437.74,96.47 L437.06,97.56 L436.86,98.64 L437.22,99.72 L437.98,100.81 L438.79,101.89 L439.3,102.98 L439.25,104.06 L438.69,105.15 L437.86,106.23 L437.13,107.32 L436.85,108.4 M438.1,110 L437.31,111.05 L436.87,112.1 L437,113.15 L437.62,114.2 L438.46,115.25 L439.14,116.3 L439.34,117.35 L438.98,118.4 L438.22,119.45 L437.41,120.5 L436.9,121.55 L436.95,122.6 L437.51,123.65 L438.34,124.7 L439.07,125.75 L439.35,126.8" fill="none"/><circle cx="457.5" cy="86.3" r="4.45"/><circle cx="457.5" cy="131.55" r="4.45"/><path d="M454.2,91.05 L454.99,92.13 L455.43,93.22 L455.3,94.3 L454.68,95.39 L453.84,96.47 L453.16,97.56 L452.96,98.64 L453.32,99.72 L454.08,100.81 L454.89,101.89 L455.4,102.98 L455.35,104.06 L454.79,105.15 L453.96,106.23 L453.23,107.32 L452.95,108.4 M454.2,110 L453.41,111.05 L452.97,112.1 L453.1,113.15 L453.72,114.2 L454.56,115.25 L455.24,116.3 L455.44,117.35 L455.08,118.4 L454.32,119.45 L453.51,120.5 L453,121.55 L453.05,122.6 L453.61,123.65 L454.44,124.7 L455.17,125.75 L455.45,126.8 M459.2,91.05 L459.99,92.13 L460.43,93.22 L460.3,94.3 L459.68,95.39 L458.84,96.47 L458.16,97.56 L457.96,98.64 L458.32,99.72 L459.08,100.81 L459.89,101.89 L460.4,102.98 L460.35,104.06 L459.79,105.15 L458.96,106.23 L458.23,107.32 L457.95,108.4 M459.2,110 L458.41,111.05 L457.97,112.1 L458.1,113.15 L458.72,114.2 L459.56,115.25 L460.24,116.3 L460.44,117.35 L460.08,118.4 L459.32,119.45 L458.51,120.5 L458,121.55 L458.05,122.6 L458.61,123.65 L459.44,124.7 L460.17,125.75 L460.45,126.8" fill="none"/><circle cx="467.58" cy="86.3" r="4.45"/><circle cx="467.58" cy="131.55" r="4.45"/><path d="M464.28,91.05 L465.07,92.13 L465.51,93.22 L465.38,94.3 L464.76,95.39 L463.92,96.47 L463.24,97.56 L463.04,98.64 L463.4,99.72 L464.16,100.81 L464.97,101.89 L465.48,102.98 L465.43,104.06 L464.87,105.15 L464.04,106.23 L463.31,107.32 L463.03,108.4 M464.28,110 L463.49,111.05 L463.05,112.1 L463.18,113.15 L463.8,114.2 L464.64,115.25 L465.32,116.3 L465.52,117.35 L465.16,118.4 L464.4,119.45 L463.59,120.5 L463.08,121.55 L463.13,122.6 L463.69,123.65 L464.52,124.7 L465.25,125.75 L465.53,126.8 M469.28,91.05 L470.07,92.13 L470.51,93.22 L470.38,94.3 L469.76,95.39 L468.92,96.47 L468.24,97.56 L468.04,98.64 L468.4,99.72 L469.16,100.81 L469.97,101.89 L470.48,102.98 L470.43,104.06 L469.87,105.15 L469.04,106.23 L468.31,107.32 L468.03,108.4 M469.28,110 L468.49,111.05 L468.05,112.1 L468.18,113.15 L468.8,114.2 L469.64,115.25 L470.32,116.3 L470.52,117.35 L470.16,118.4 L469.4,119.45 L468.59,120.5 L468.08,121.55 L468.13,122.6 L468.69,123.65 L469.52,124.7 L470.25,125.75 L470.53,126.8" fill="none"/><circle cx="477.66" cy="86.3" r="4.45"/><circle cx="477.66" cy="131.55" r="4.45"/><path d="M474.36,91.05 L475.15,92.13 L475.59,93.22 L475.46,94.3 L474.84,95.39 L474,96.47 L473.32,97.56 L473.12,98.64 L473.48,99.72 L474.24,100.81 L475.05,101.89 L475.56,102.98 L475.51,104.06 L474.95,105.15 L474.12,106.23 L473.39,107.32 L473.11,108.4 M474.36,110 L473.57,111.05 L473.13,112.1 L473.26,113.15 L473.88,114.2 L474.72,115.25 L475.4,116.3 L475.6,117.35 L475.24,118.4 L474.48,119.45 L473.67,120.5 L473.16,121.55 L473.21,122.6 L473.77,123.65 L474.6,124.7 L475.33,125.75 L475.61,126.8 M479.36,91.05 L480.15,92.13 L480.59,93.22 L480.46,94.3 L479.84,95.39 L479,96.47 L478.32,97.56 L478.12,98.64 L478.48,99.72 L479.24,100.81 L480.05,101.89 L480.56,102.98 L480.51,104.06 L479.95,105.15 L479.12,106.23 L478.39,107.32 L478.11,108.4 M479.36,110 L478.57,111.05 L478.13,112.1 L478.26,113.15 L478.88,114.2 L479.72,115.25 L480.4,116.3 L480.6,117.35 L480.24,118.4 L479.48,119.45 L478.67,120.5 L478.16,121.55 L478.21,122.6 L478.77,123.65 L479.6,124.7 L480.33,125.75 L480.61,126.8" fill="none"/><circle cx="487.74" cy="86.3" r="4.45"/><circle cx="487.74" cy="131.55" r="4.45"/><path d="M484.44,91.05 L485.23,92.13 L485.67,93.22 L485.54,94.3 L484.92,95.39 L484.08,96.47 L483.4,97.56 L483.2,98.64 L483.56,99.72 L484.32,100.81 L485.13,101.89 L485.64,102.98 L485.59,104.06 L485.03,105.15 L484.2,106.23 L483.47,107.32 L483.19,108.4 M484.44,110 L483.65,111.05 L483.21,112.1 L483.34,113.15 L483.96,114.2 L484.8,115.25 L485.48,116.3 L485.68,117.35 L485.32,118.4 L484.56,119.45 L483.75,120.5 L483.24,121.55 L483.29,122.6 L483.85,123.65 L484.68,124.7 L485.41,125.75 L485.69,126.8 M489.44,91.05 L490.23,92.13 L490.67,93.22 L490.54,94.3 L489.92,95.39 L489.08,96.47 L488.4,97.56 L488.2,98.64 L488.56,99.72 L489.32,100.81 L490.13,101.89 L490.64,102.98 L490.59,104.06 L490.03,105.15 L489.2,106.23 L488.47,107.32 L488.19,108.4 M489.44,110 L488.65,111.05 L488.21,112.1 L488.34,113.15 L488.96,114.2 L489.8,115.25 L490.48,116.3 L490.68,117.35 L490.32,118.4 L489.56,119.45 L488.75,120.5 L488.24,121.55 L488.29,122.6 L488.85,123.65 L489.68,124.7 L490.41,125.75 L490.69,126.8" fill="none"/><circle cx="497.82" cy="86.3" r="4.45"/><circle cx="497.82" cy="131.55" r="4.45"/><path d="M494.52,91.05 L495.31,92.13 L495.75,93.22 L495.62,94.3 L495,95.39 L494.16,96.47 L493.48,97.56 L493.28,98.64 L493.64,99.72 L494.4,100.81 L495.21,101.89 L495.72,102.98 L495.67,104.06 L495.11,105.15 L494.28,106.23 L493.55,107.32 L493.27,108.4 M494.52,110 L493.73,111.05 L493.29,112.1 L493.42,113.15 L494.04,114.2 L494.88,115.25 L495.56,116.3 L495.76,117.35 L495.4,118.4 L494.64,119.45 L493.83,120.5 L493.32,121.55 L493.37,122.6 L493.93,123.65 L494.76,124.7 L495.49,125.75 L495.77,126.8 M499.52,91.05 L500.31,92.13 L500.75,93.22 L500.62,94.3 L500,95.39 L499.16,96.47 L498.48,97.56 L498.28,98.64 L498.64,99.72 L499.4,100.81 L500.21,101.89 L500.72,102.98 L500.67,104.06 L500.11,105.15 L499.28,106.23 L498.55,107.32 L498.27,108.4 M499.52,110 L498.73,111.05 L498.29,112.1 L498.42,113.15 L499.04,114.2 L499.88,115.25 L500.56,116.3 L500.76,117.35 L500.4,118.4 L499.64,119.45 L498.83,120.5 L498.32,121.55 L498.37,122.6 L498.93,123.65 L499.76,124.7 L500.49,125.75 L500.77,126.8" fill="none"/><circle cx="507.9" cy="86.3" r="4.45"/><circle cx="507.9" cy="131.55" r="4.45"/><path d="M504.6,91.05 L505.39,92.13 L505.83,93.22 L505.7,94.3 L505.08,95.39 L504.24,96.47 L503.56,97.56 L503.36,98.64 L503.72,99.72 L504.48,100.81 L505.29,101.89 L505.8,102.98 L505.75,104.06 L505.19,105.15 L504.36,106.23 L503.63,107.32 L503.35,108.4 M504.6,110 L503.81,111.05 L503.37,112.1 L503.5,113.15 L504.12,114.2 L504.96,115.25 L505.64,116.3 L505.84,117.35 L505.48,118.4 L504.72,119.45 L503.91,120.5 L503.4,121.55 L503.45,122.6 L504.01,123.65 L504.84,124.7 L505.57,125.75 L505.85,126.8 M509.6,91.05 L510.39,92.13 L510.83,93.22 L510.7,94.3 L510.08,95.39 L509.24,96.47 L508.56,97.56 L508.36,98.64 L508.72,99.72 L509.48,100.81 L510.29,101.89 L510.8,102.98 L510.75,104.06 L510.19,105.15 L509.36,106.23 L508.63,107.32 L508.35,108.4 M509.6,110 L508.81,111.05 L508.37,112.1 L508.5,113.15 L509.12,114.2 L509.96,115.25 L510.64,116.3 L510.84,117.35 L510.48,118.4 L509.72,119.45 L508.91,120.5 L508.4,121.55 L508.45,122.6 L509.01,123.65 L509.84,124.7 L510.57,125.75 L510.85,126.8" fill="none"/><circle cx="517.98" cy="86.3" r="4.45"/><circle cx="517.98" cy="131.55" r="4.45"/><path d="M514.68,91.05 L515.47,92.13 L515.91,93.22 L515.78,94.3 L515.16,95.39 L514.32,96.47 L513.64,97.56 L513.44,98.64 L513.8,99.72 L514.56,100.81 L515.37,101.89 L515.88,102.98 L515.83,104.06 L515.27,105.15 L514.44,106.23 L513.71,107.32 L513.43,108.4 M514.68,110 L513.89,111.05 L513.45,112.1 L513.58,113.15 L514.2,114.2 L515.04,115.25 L515.72,116.3 L515.92,117.35 L515.56,118.4 L514.8,119.45 L513.99,120.5 L513.48,121.55 L513.53,122.6 L514.09,123.65 L514.92,124.7 L515.65,125.75 L515.93,126.8 M519.68,91.05 L520.47,92.13 L520.91,93.22 L520.78,94.3 L520.16,95.39 L519.32,96.47 L518.64,97.56 L518.44,98.64 L518.8,99.72 L519.56,100.81 L520.37,101.89 L520.88,102.98 L520.83,104.06 L520.27,105.15 L519.44,106.23 L518.71,107.32 L518.43,108.4 M519.68,110 L518.89,111.05 L518.45,112.1 L518.58,113.15 L519.2,114.2 L520.04,115.25 L520.72,116.3 L520.92,117.35 L520.56,118.4 L519.8,119.45 L518.99,120.5 L518.48,121.55 L518.53,122.6 L519.09,123.65 L519.92,124.7 L520.65,125.75 L520.93,126.8" fill="none"/><circle cx="528.06" cy="86.3" r="4.45"/><circle cx="528.06" cy="131.55" r="4.45"/><path d="M524.76,91.05 L525.55,92.13 L525.99,93.22 L525.86,94.3 L525.24,95.39 L524.4,96.47 L523.72,97.56 L523.52,98.64 L523.88,99.72 L524.64,100.81 L525.45,101.89 L525.96,102.98 L525.91,104.06 L525.35,105.15 L524.52,106.23 L523.79,107.32 L523.51,108.4 M524.76,110 L523.97,111.05 L523.53,112.1 L523.66,113.15 L524.28,114.2 L525.12,115.25 L525.8,116.3 L526,117.35 L525.64,118.4 L524.88,119.45 L524.07,120.5 L523.56,121.55 L523.61,122.6 L524.17,123.65 L525,124.7 L525.73,125.75 L526.01,126.8 M529.76,91.05 L530.55,92.13 L530.99,93.22 L530.86,94.3 L530.24,95.39 L529.4,96.47 L528.72,97.56 L528.52,98.64 L528.88,99.72 L529.64,100.81 L530.45,101.89 L530.96,102.98 L530.91,104.06 L530.35,105.15 L529.52,106.23 L528.79,107.32 L528.51,108.4 M529.76,110 L528.97,111.05 L528.53,112.1 L528.66,113.15 L529.28,114.2 L530.12,115.25 L530.8,116.3 L531,117.35 L530.64,118.4 L529.88,119.45 L529.07,120.5 L528.56,121.55 L528.61,122.6 L529.17,123.65 L530,124.7 L530.73,125.75 L531.01,126.8" fill="none"/><circle cx="538.14" cy="86.3" r="4.45"/><circle cx="538.14" cy="131.55" r="4.45"/><path d="M534.84,91.05 L535.63,92.13 L536.07,93.22 L535.94,94.3 L535.32,95.39 L534.48,96.47 L533.8,97.56 L533.6,98.64 L533.96,99.72 L534.72,100.81 L535.53,101.89 L536.04,102.98 L535.99,104.06 L535.43,105.15 L534.6,106.23 L533.87,107.32 L533.59,108.4 M534.84,110 L534.05,111.05 L533.61,112.1 L533.74,113.15 L534.36,114.2 L535.2,115.25 L535.88,116.3 L536.08,117.35 L535.72,118.4 L534.96,119.45 L534.15,120.5 L533.64,121.55 L533.69,122.6 L534.25,123.65 L535.08,124.7 L535.81,125.75 L536.09,126.8 M539.84,91.05 L540.63,92.13 L541.07,93.22 L540.94,94.3 L540.32,95.39 L539.48,96.47 L538.8,97.56 L538.6,98.64 L538.96,99.72 L539.72,100.81 L540.53,101.89 L541.04,102.98 L540.99,104.06 L540.43,105.15 L539.6,106.23 L538.87,107.32 L538.59,108.4 M539.84,110 L539.05,111.05 L538.61,112.1 L538.74,113.15 L539.36,114.2 L540.2,115.25 L540.88,116.3 L541.08,117.35 L540.72,118.4 L539.96,119.45 L539.15,120.5 L538.64,121.55 L538.69,122.6 L539.25,123.65 L540.08,124.7 L540.81,125.75 L541.09,126.8" fill="none"/><circle cx="548.22" cy="86.3" r="4.45"/><circle cx="548.22" cy="131.55" r="4.45"/><path d="M544.92,91.05 L545.71,92.13 L546.15,93.22 L546.02,94.3 L545.4,95.39 L544.56,96.47 L543.88,97.56 L543.68,98.64 L544.04,99.72 L544.8,100.81 L545.61,101.89 L546.12,102.98 L546.07,104.06 L545.51,105.15 L544.68,106.23 L543.95,107.32 L543.67,108.4 M544.92,110 L544.13,111.05 L543.69,112.1 L543.82,113.15 L544.44,114.2 L545.28,115.25 L545.96,116.3 L546.16,117.35 L545.8,118.4 L545.04,119.45 L544.23,120.5 L543.72,121.55 L543.77,122.6 L544.33,123.65 L545.16,124.7 L545.89,125.75 L546.17,126.8 M549.92,91.05 L550.71,92.13 L551.15,93.22 L551.02,94.3 L550.4,95.39 L549.56,96.47 L548.88,97.56 L548.68,98.64 L549.04,99.72 L549.8,100.81 L550.61,101.89 L551.12,102.98 L551.07,104.06 L550.51,105.15 L549.68,106.23 L548.95,107.32 L548.67,108.4 M549.92,110 L549.13,111.05 L548.69,112.1 L548.82,113.15 L549.44,114.2 L550.28,115.25 L550.96,116.3 L551.16,117.35 L550.8,118.4 L550.04,119.45 L549.23,120.5 L548.72,121.55 L548.77,122.6 L549.33,123.65 L550.16,124.7 L550.89,125.75 L551.17,126.8" fill="none"/><circle cx="558.3" cy="86.3" r="4.45"/><circle cx="558.3" cy="131.55" r="4.45"/><path d="M555,91.05 L555.79,92.13 L556.23,93.22 L556.1,94.3 L555.48,95.39 L554.64,96.47 L553.96,97.56 L553.76,98.64 L554.12,99.72 L554.88,100.81 L555.69,101.89 L556.2,102.98 L556.15,104.06 L555.59,105.15 L554.76,106.23 L554.03,107.32 L553.75,108.4 M555,110 L554.21,111.05 L553.77,112.1 L553.9,113.15 L554.52,114.2 L555.36,115.25 L556.04,116.3 L556.24,117.35 L555.88,118.4 L555.12,119.45 L554.31,120.5 L553.8,121.55 L553.85,122.6 L554.41,123.65 L555.24,124.7 L555.97,125.75 L556.25,126.8 M560,91.05 L560.79,92.13 L561.23,93.22 L561.1,94.3 L560.48,95.39 L559.64,96.47 L558.96,97.56 L558.76,98.64 L559.12,99.72 L559.88,100.81 L560.69,101.89 L561.2,102.98 L561.15,104.06 L560.59,105.15 L559.76,106.23 L559.03,107.32 L558.75,108.4 M560,110 L559.21,111.05 L558.77,112.1 L558.9,113.15 L559.52,114.2 L560.36,115.25 L561.04,116.3 L561.24,117.35 L560.88,118.4 L560.12,119.45 L559.31,120.5 L558.8,121.55 L558.85,122.6 L559.41,123.65 L560.24,124.7 L560.97,125.75 L561.25,126.8" fill="none"/><circle cx="567.45" cy="86.3" r="4.45"/><circle cx="567.45" cy="131.55" r="4.45"/><path d="M564.15,91.05 L564.94,92.13 L565.38,93.22 L565.25,94.3 L564.63,95.39 L563.79,96.47 L563.11,97.56 L562.91,98.64 L563.27,99.72 L564.03,100.81 L564.84,101.89 L565.35,102.98 L565.3,104.06 L564.74,105.15 L563.91,106.23 L563.18,107.32 L562.9,108.4 M564.15,110 L563.36,111.05 L562.92,112.1 L563.05,113.15 L563.67,114.2 L564.51,115.25 L565.19,116.3 L565.39,117.35 L565.03,118.4 L564.27,119.45 L563.46,120.5 L562.95,121.55 L563,122.6 L563.56,123.65 L564.39,124.7 L565.12,125.75 L565.4,126.8 M569.15,91.05 L569.94,92.13 L570.38,93.22 L570.25,94.3 L569.63,95.39 L568.79,96.47 L568.11,97.56 L567.91,98.64 L568.27,99.72 L569.03,100.81 L569.84,101.89 L570.35,102.98 L570.3,104.06 L569.74,105.15 L568.91,106.23 L568.18,107.32 L567.9,108.4 M569.15,110 L568.36,111.05 L567.92,112.1 L568.05,113.15 L568.67,114.2 L569.51,115.25 L570.19,116.3 L570.39,117.35 L570.03,118.4 L569.27,119.45 L568.46,120.5 L567.95,121.55 L568,122.6 L568.56,123.65 L569.39,124.7 L570.12,125.75 L570.4,126.8" fill="none"/><circle cx="577.8" cy="86.3" r="4.45"/><circle cx="577.8" cy="131.55" r="4.45"/><path d="M574.5,91.05 L575.29,92.13 L575.73,93.22 L575.6,94.3 L574.98,95.39 L574.14,96.47 L573.46,97.56 L573.26,98.64 L573.62,99.72 L574.38,100.81 L575.19,101.89 L575.7,102.98 L575.65,104.06 L575.09,105.15 L574.26,106.23 L573.53,107.32 L573.25,108.4 M574.5,110 L573.71,111.05 L573.27,112.1 L573.4,113.15 L574.02,114.2 L574.86,115.25 L575.54,116.3 L575.74,117.35 L575.38,118.4 L574.62,119.45 L573.81,120.5 L573.3,121.55 L573.35,122.6 L573.91,123.65 L574.74,124.7 L575.47,125.75 L575.75,126.8 M579.5,91.05 L580.29,92.13 L580.73,93.22 L580.6,94.3 L579.98,95.39 L579.14,96.47 L578.46,97.56 L578.26,98.64 L578.62,99.72 L579.38,100.81 L580.19,101.89 L580.7,102.98 L580.65,104.06 L580.09,105.15 L579.26,106.23 L578.53,107.32 L578.25,108.4 M579.5,110 L578.71,111.05 L578.27,112.1 L578.4,113.15 L579.02,114.2 L579.86,115.25 L580.54,116.3 L580.74,117.35 L580.38,118.4 L579.62,119.45 L578.81,120.5 L578.3,121.55 L578.35,122.6 L578.91,123.65 L579.74,124.7 L580.47,125.75 L580.75,126.8" fill="none"/><circle cx="588.15" cy="86.3" r="4.45"/><circle cx="588.15" cy="131.55" r="4.45"/><path d="M584.85,91.05 L585.64,92.13 L586.08,93.22 L585.95,94.3 L585.33,95.39 L584.49,96.47 L583.81,97.56 L583.61,98.64 L583.97,99.72 L584.73,100.81 L585.54,101.89 L586.05,102.98 L586,104.06 L585.44,105.15 L584.61,106.23 L583.88,107.32 L583.6,108.4 M584.85,110 L584.06,111.05 L583.62,112.1 L583.75,113.15 L584.37,114.2 L585.21,115.25 L585.89,116.3 L586.09,117.35 L585.73,118.4 L584.97,119.45 L584.16,120.5 L583.65,121.55 L583.7,122.6 L584.26,123.65 L585.09,124.7 L585.82,125.75 L586.1,126.8 M589.85,91.05 L590.64,92.13 L591.08,93.22 L590.95,94.3 L590.33,95.39 L589.49,96.47 L588.81,97.56 L588.61,98.64 L588.97,99.72 L589.73,100.81 L590.54,101.89 L591.05,102.98 L591,104.06 L590.44,105.15 L589.61,106.23 L588.88,107.32 L588.6,108.4 M589.85,110 L589.06,111.05 L588.62,112.1 L588.75,113.15 L589.37,114.2 L590.21,115.25 L590.89,116.3 L591.09,117.35 L590.73,118.4 L589.97,119.45 L589.16,120.5 L588.65,121.55 L588.7,122.6 L589.26,123.65 L590.09,124.7 L590.82,125.75 L591.1,126.8" fill="none"/><circle cx="598.5" cy="86.3" r="4.45"/><circle cx="598.5" cy="131.55" r="4.45"/><path d="M595.2,91.05 L595.99,92.13 L596.43,93.22 L596.3,94.3 L595.68,95.39 L594.84,96.47 L594.16,97.56 L593.96,98.64 L594.32,99.72 L595.08,100.81 L595.89,101.89 L596.4,102.98 L596.35,104.06 L595.79,105.15 L594.96,106.23 L594.23,107.32 L593.95,108.4 M595.2,110 L594.41,111.05 L593.97,112.1 L594.1,113.15 L594.72,114.2 L595.56,115.25 L596.24,116.3 L596.44,117.35 L596.08,118.4 L595.32,119.45 L594.51,120.5 L594,121.55 L594.05,122.6 L594.61,123.65 L595.44,124.7 L596.17,125.75 L596.45,126.8 M600.2,91.05 L600.99,92.13 L601.43,93.22 L601.3,94.3 L600.68,95.39 L599.84,96.47 L599.16,97.56 L598.96,98.64 L599.32,99.72 L600.08,100.81 L600.89,101.89 L601.4,102.98 L601.35,104.06 L600.79,105.15 L599.96,106.23 L599.23,107.32 L598.95,108.4 M600.2,110 L599.41,111.05 L598.97,112.1 L599.1,113.15 L599.72,114.2 L600.56,115.25 L601.24,116.3 L601.44,117.35 L601.08,118.4 L600.32,119.45 L599.51,120.5 L599,121.55 L599.05,122.6 L599.61,123.65 L600.44,124.7 L601.17,125.75 L601.45,126.8" fill="none"/><circle cx="608.85" cy="86.3" r="4.45"/><circle cx="608.85" cy="131.55" r="4.45"/><path d="M605.55,91.05 L606.34,92.13 L606.78,93.22 L606.65,94.3 L606.03,95.39 L605.19,96.47 L604.51,97.56 L604.31,98.64 L604.67,99.72 L605.43,100.81 L606.24,101.89 L606.75,102.98 L606.7,104.06 L606.14,105.15 L605.31,106.23 L604.58,107.32 L604.3,108.4 M605.55,110 L604.76,111.05 L604.32,112.1 L604.45,113.15 L605.07,114.2 L605.91,115.25 L606.59,116.3 L606.79,117.35 L606.43,118.4 L605.67,119.45 L604.86,120.5 L604.35,121.55 L604.4,122.6 L604.96,123.65 L605.79,124.7 L606.52,125.75 L606.8,126.8 M610.55,91.05 L611.34,92.13 L611.78,93.22 L611.65,94.3 L611.03,95.39 L610.19,96.47 L609.51,97.56 L609.31,98.64 L609.67,99.72 L610.43,100.81 L611.24,101.89 L611.75,102.98 L611.7,104.06 L611.14,105.15 L610.31,106.23 L609.58,107.32 L609.3,108.4 M610.55,110 L609.76,111.05 L609.32,112.1 L609.45,113.15 L610.07,114.2 L610.91,115.25 L611.59,116.3 L611.79,117.35 L611.43,118.4 L610.67,119.45 L609.86,120.5 L609.35,121.55 L609.4,122.6 L609.96,123.65 L610.79,124.7 L611.52,125.75 L611.8,126.8" fill="none"/><circle cx="619.2" cy="86.3" r="4.45"/><circle cx="619.2" cy="131.55" r="4.45"/><path d="M615.9,91.05 L616.69,92.13 L617.13,93.22 L617,94.3 L616.38,95.39 L615.54,96.47 L614.86,97.56 L614.66,98.64 L615.02,99.72 L615.78,100.81 L616.59,101.89 L617.1,102.98 L617.05,104.06 L616.49,105.15 L615.66,106.23 L614.93,107.32 L614.65,108.4 M615.9,110 L615.11,111.05 L614.67,112.1 L614.8,113.15 L615.42,114.2 L616.26,115.25 L616.94,116.3 L617.14,117.35 L616.78,118.4 L616.02,119.45 L615.21,120.5 L614.7,121.55 L614.75,122.6 L615.31,123.65 L616.14,124.7 L616.87,125.75 L617.15,126.8 M620.9,91.05 L621.69,92.13 L622.13,93.22 L622,94.3 L621.38,95.39 L620.54,96.47 L619.86,97.56 L619.66,98.64 L620.02,99.72 L620.78,100.81 L621.59,101.89 L622.1,102.98 L622.05,104.06 L621.49,105.15 L620.66,106.23 L619.93,107.32 L619.65,108.4 M620.9,110 L620.11,111.05 L619.67,112.1 L619.8,113.15 L620.42,114.2 L621.26,115.25 L621.94,116.3 L622.14,117.35 L621.78,118.4 L621.02,119.45 L620.21,120.5 L619.7,121.55 L619.75,122.6 L620.31,123.65 L621.14,124.7 L621.87,125.75 L622.15,126.8" fill="none"/><circle cx="629.55" cy="86.3" r="4.45"/><circle cx="629.55" cy="131.55" r="4.45"/><path d="M626.25,91.05 L627.04,92.13 L627.48,93.22 L627.35,94.3 L626.73,95.39 L625.89,96.47 L625.21,97.56 L625.01,98.64 L625.37,99.72 L626.13,100.81 L626.94,101.89 L627.45,102.98 L627.4,104.06 L626.84,105.15 L626.01,106.23 L625.28,107.32 L625,108.4 M626.25,110 L625.46,111.05 L625.02,112.1 L625.15,113.15 L625.77,114.2 L626.61,115.25 L627.29,116.3 L627.49,117.35 L627.13,118.4 L626.37,119.45 L625.56,120.5 L625.05,121.55 L625.1,122.6 L625.66,123.65 L626.49,124.7 L627.22,125.75 L627.5,126.8 M631.25,91.05 L632.04,92.13 L632.48,93.22 L632.35,94.3 L631.73,95.39 L630.89,96.47 L630.21,97.56 L630.01,98.64 L630.37,99.72 L631.13,100.81 L631.94,101.89 L632.45,102.98 L632.4,104.06 L631.84,105.15 L631.01,106.23 L630.28,107.32 L630,108.4 M631.25,110 L630.46,111.05 L630.02,112.1 L630.15,113.15 L630.77,114.2 L631.61,115.25 L632.29,116.3 L632.49,117.35 L632.13,118.4 L631.37,119.45 L630.56,120.5 L630.05,121.55 L630.1,122.6 L630.66,123.65 L631.49,124.7 L632.22,125.75 L632.5,126.8" fill="none"/><circle cx="646.4" cy="86.3" r="4.45"/><circle cx="646.4" cy="131.55" r="4.45"/><path d="M643.1,91.05 L643.89,92.13 L644.33,93.22 L644.2,94.3 L643.58,95.39 L642.74,96.47 L642.06,97.56 L641.86,98.64 L642.22,99.72 L642.98,100.81 L643.79,101.89 L644.3,102.98 L644.25,104.06 L643.69,105.15 L642.86,106.23 L642.13,107.32 L641.85,108.4 M643.1,110 L642.31,111.05 L641.87,112.1 L642,113.15 L642.62,114.2 L643.46,115.25 L644.14,116.3 L644.34,117.35 L643.98,118.4 L643.22,119.45 L642.41,120.5 L641.9,121.55 L641.95,122.6 L642.51,123.65 L643.34,124.7 L644.07,125.75 L644.35,126.8 M648.1,91.05 L648.89,92.13 L649.33,93.22 L649.2,94.3 L648.58,95.39 L647.74,96.47 L647.06,97.56 L646.86,98.64 L647.22,99.72 L647.98,100.81 L648.79,101.89 L649.3,102.98 L649.25,104.06 L648.69,105.15 L647.86,106.23 L647.13,107.32 L646.85,108.4 M648.1,110 L647.31,111.05 L646.87,112.1 L647,113.15 L647.62,114.2 L648.46,115.25 L649.14,116.3 L649.34,117.35 L648.98,118.4 L648.22,119.45 L647.41,120.5 L646.9,121.55 L646.95,122.6 L647.51,123.65 L648.34,124.7 L649.07,125.75 L649.35,126.8" fill="none"/><circle cx="667" cy="86.3" r="4.45"/><circle cx="667" cy="131.55" r="4.45"/><path d="M663.7,91.05 L664.49,92.13 L664.93,93.22 L664.8,94.3 L664.18,95.39 L663.34,96.47 L662.66,97.56 L662.46,98.64 L662.82,99.72 L663.58,100.81 L664.39,101.89 L664.9,102.98 L664.85,104.06 L664.29,105.15 L663.46,106.23 L662.73,107.32 L662.45,108.4 M663.7,110 L662.91,111.05 L662.47,112.1 L662.6,113.15 L663.22,114.2 L664.06,115.25 L664.74,116.3 L664.94,117.35 L664.58,118.4 L663.82,119.45 L663.01,120.5 L662.5,121.55 L662.55,122.6 L663.11,123.65 L663.94,124.7 L664.67,125.75 L664.95,126.8 M668.7,91.05 L669.49,92.13 L669.93,93.22 L669.8,94.3 L669.18,95.39 L668.34,96.47 L667.66,97.56 L667.46,98.64 L667.82,99.72 L668.58,100.81 L669.39,101.89 L669.9,102.98 L669.85,104.06 L669.29,105.15 L668.46,106.23 L667.73,107.32 L667.45,108.4 M668.7,110 L667.91,111.05 L667.47,112.1 L667.6,113.15 L668.22,114.2 L669.06,115.25 L669.74,116.3 L669.94,117.35 L669.58,118.4 L668.82,119.45 L668.01,120.5 L667.5,121.55 L667.55,122.6 L668.11,123.65 L668.94,124.7 L669.67,125.75 L669.95,126.8" fill="none"/><circle cx="688.3" cy="86.3" r="4.45"/><circle cx="688.3" cy="131.55" r="4.45"/><path d="M685,91.05 L685.79,92.13 L686.23,93.22 L686.1,94.3 L685.48,95.39 L684.64,96.47 L683.96,97.56 L683.76,98.64 L684.12,99.72 L684.88,100.81 L685.69,101.89 L686.2,102.98 L686.15,104.06 L685.59,105.15 L684.76,106.23 L684.03,107.32 L683.75,108.4 M685,110 L684.21,111.05 L683.77,112.1 L683.9,113.15 L684.52,114.2 L685.36,115.25 L686.04,116.3 L686.24,117.35 L685.88,118.4 L685.12,119.45 L684.31,120.5 L683.8,121.55 L683.85,122.6 L684.41,123.65 L685.24,124.7 L685.97,125.75 L686.25,126.8 M690,91.05 L690.79,92.13 L691.23,93.22 L691.1,94.3 L690.48,95.39 L689.64,96.47 L688.96,97.56 L688.76,98.64 L689.12,99.72 L689.88,100.81 L690.69,101.89 L691.2,102.98 L691.15,104.06 L690.59,105.15 L689.76,106.23 L689.03,107.32 L688.75,108.4 M690,110 L689.21,111.05 L688.77,112.1 L688.9,113.15 L689.52,114.2 L690.36,115.25 L691.04,116.3 L691.24,117.35 L690.88,118.4 L690.12,119.45 L689.31,120.5 L688.8,121.55 L688.85,122.6 L689.41,123.65 L690.24,124.7 L690.97,125.75 L691.25,126.8" fill="none"/><circle cx="701.48" cy="86.3" r="4.45"/><circle cx="701.48" cy="131.55" r="4.45"/><path d="M698.18,91.05 L698.97,92.13 L699.41,93.22 L699.28,94.3 L698.66,95.39 L697.82,96.47 L697.14,97.56 L696.94,98.64 L697.3,99.72 L698.06,100.81 L698.87,101.89 L699.38,102.98 L699.33,104.06 L698.77,105.15 L697.94,106.23 L697.21,107.32 L696.93,108.4 M698.18,110 L697.39,111.05 L696.95,112.1 L697.08,113.15 L697.7,114.2 L698.54,115.25 L699.22,116.3 L699.42,117.35 L699.06,118.4 L698.3,119.45 L697.49,120.5 L696.98,121.55 L697.03,122.6 L697.59,123.65 L698.42,124.7 L699.15,125.75 L699.43,126.8 M703.18,91.05 L703.97,92.13 L704.41,93.22 L704.28,94.3 L703.66,95.39 L702.82,96.47 L702.14,97.56 L701.94,98.64 L702.3,99.72 L703.06,100.81 L703.87,101.89 L704.38,102.98 L704.33,104.06 L703.77,105.15 L702.94,106.23 L702.21,107.32 L701.93,108.4 M703.18,110 L702.39,111.05 L701.95,112.1 L702.08,113.15 L702.7,114.2 L703.54,115.25 L704.22,116.3 L704.42,117.35 L704.06,118.4 L703.3,119.45 L702.49,120.5 L701.98,121.55 L702.03,122.6 L702.59,123.65 L703.42,124.7 L704.15,125.75 L704.43,126.8" fill="none"/><circle cx="711.6" cy="86.3" r="4.45"/><circle cx="711.6" cy="131.55" r="4.45"/><path d="M708.3,91.05 L709.09,92.13 L709.53,93.22 L709.4,94.3 L708.78,95.39 L707.94,96.47 L707.26,97.56 L707.06,98.64 L707.42,99.72 L708.18,100.81 L708.99,101.89 L709.5,102.98 L709.45,104.06 L708.89,105.15 L708.06,106.23 L707.33,107.32 L707.05,108.4 M708.3,110 L707.51,111.05 L707.07,112.1 L707.2,113.15 L707.82,114.2 L708.66,115.25 L709.34,116.3 L709.54,117.35 L709.18,118.4 L708.42,119.45 L707.61,120.5 L707.1,121.55 L707.15,122.6 L707.71,123.65 L708.54,124.7 L709.27,125.75 L709.55,126.8 M713.3,91.05 L714.09,92.13 L714.53,93.22 L714.4,94.3 L713.78,95.39 L712.94,96.47 L712.26,97.56 L712.06,98.64 L712.42,99.72 L713.18,100.81 L713.99,101.89 L714.5,102.98 L714.45,104.06 L713.89,105.15 L713.06,106.23 L712.33,107.32 L712.05,108.4 M713.3,110 L712.51,111.05 L712.07,112.1 L712.2,113.15 L712.82,114.2 L713.66,115.25 L714.34,116.3 L714.54,117.35 L714.18,118.4 L713.42,119.45 L712.61,120.5 L712.1,121.55 L712.15,122.6 L712.71,123.65 L713.54,124.7 L714.27,125.75 L714.55,126.8" fill="none"/><circle cx="721.72" cy="86.3" r="4.45"/><circle cx="721.72" cy="131.55" r="4.45"/><path d="M718.42,91.05 L719.21,92.13 L719.65,93.22 L719.52,94.3 L718.9,95.39 L718.06,96.47 L717.38,97.56 L717.18,98.64 L717.54,99.72 L718.3,100.81 L719.11,101.89 L719.62,102.98 L719.57,104.06 L719.01,105.15 L718.18,106.23 L717.45,107.32 L717.17,108.4 M718.42,110 L717.63,111.05 L717.19,112.1 L717.32,113.15 L717.94,114.2 L718.78,115.25 L719.46,116.3 L719.66,117.35 L719.3,118.4 L718.54,119.45 L717.73,120.5 L717.22,121.55 L717.27,122.6 L717.83,123.65 L718.66,124.7 L719.39,125.75 L719.67,126.8 M723.42,91.05 L724.21,92.13 L724.65,93.22 L724.52,94.3 L723.9,95.39 L723.06,96.47 L722.38,97.56 L722.18,98.64 L722.54,99.72 L723.3,100.81 L724.11,101.89 L724.62,102.98 L724.57,104.06 L724.01,105.15 L723.18,106.23 L722.45,107.32 L722.17,108.4 M723.42,110 L722.63,111.05 L722.19,112.1 L722.32,113.15 L722.94,114.2 L723.78,115.25 L724.46,116.3 L724.66,117.35 L724.3,118.4 L723.54,119.45 L722.73,120.5 L722.22,121.55 L722.27,122.6 L722.83,123.65 L723.66,124.7 L724.39,125.75 L724.67,126.8" fill="none"/><circle cx="731.84" cy="86.3" r="4.45"/><circle cx="731.84" cy="131.55" r="4.45"/><path d="M728.54,91.05 L729.33,92.13 L729.77,93.22 L729.64,94.3 L729.02,95.39 L728.18,96.47 L727.5,97.56 L727.3,98.64 L727.66,99.72 L728.42,100.81 L729.23,101.89 L729.74,102.98 L729.69,104.06 L729.13,105.15 L728.3,106.23 L727.57,107.32 L727.29,108.4 M728.54,110 L727.75,111.05 L727.31,112.1 L727.44,113.15 L728.06,114.2 L728.9,115.25 L729.58,116.3 L729.78,117.35 L729.42,118.4 L728.66,119.45 L727.85,120.5 L727.34,121.55 L727.39,122.6 L727.95,123.65 L728.78,124.7 L729.51,125.75 L729.79,126.8 M733.54,91.05 L734.33,92.13 L734.77,93.22 L734.64,94.3 L734.02,95.39 L733.18,96.47 L732.5,97.56 L732.3,98.64 L732.66,99.72 L733.42,100.81 L734.23,101.89 L734.74,102.98 L734.69,104.06 L734.13,105.15 L733.3,106.23 L732.57,107.32 L732.29,108.4 M733.54,110 L732.75,111.05 L732.31,112.1 L732.44,113.15 L733.06,114.2 L733.9,115.25 L734.58,116.3 L734.78,117.35 L734.42,118.4 L733.66,119.45 L732.85,120.5 L732.34,121.55 L732.39,122.6 L732.95,123.65 L733.78,124.7 L734.51,125.75 L734.79,126.8" fill="none"/><circle cx="741.96" cy="86.3" r="4.45"/><circle cx="741.96" cy="131.55" r="4.45"/><path d="M738.66,91.05 L739.45,92.13 L739.89,93.22 L739.76,94.3 L739.14,95.39 L738.3,96.47 L737.62,97.56 L737.42,98.64 L737.78,99.72 L738.54,100.81 L739.35,101.89 L739.86,102.98 L739.81,104.06 L739.25,105.15 L738.42,106.23 L737.69,107.32 L737.41,108.4 M738.66,110 L737.87,111.05 L737.43,112.1 L737.56,113.15 L738.18,114.2 L739.02,115.25 L739.7,116.3 L739.9,117.35 L739.54,118.4 L738.78,119.45 L737.97,120.5 L737.46,121.55 L737.51,122.6 L738.07,123.65 L738.9,124.7 L739.63,125.75 L739.91,126.8 M743.66,91.05 L744.45,92.13 L744.89,93.22 L744.76,94.3 L744.14,95.39 L743.3,96.47 L742.62,97.56 L742.42,98.64 L742.78,99.72 L743.54,100.81 L744.35,101.89 L744.86,102.98 L744.81,104.06 L744.25,105.15 L743.42,106.23 L742.69,107.32 L742.41,108.4 M743.66,110 L742.87,111.05 L742.43,112.1 L742.56,113.15 L743.18,114.2 L744.02,115.25 L744.7,116.3 L744.9,117.35 L744.54,118.4 L743.78,119.45 L742.97,120.5 L742.46,121.55 L742.51,122.6 L743.07,123.65 L743.9,124.7 L744.63,125.75 L744.91,126.8" fill="none"/><circle cx="752.08" cy="86.3" r="4.45"/><circle cx="752.08" cy="131.55" r="4.45"/><path d="M748.78,91.05 L749.57,92.13 L750.01,93.22 L749.88,94.3 L749.26,95.39 L748.42,96.47 L747.74,97.56 L747.54,98.64 L747.9,99.72 L748.66,100.81 L749.47,101.89 L749.98,102.98 L749.93,104.06 L749.37,105.15 L748.54,106.23 L747.81,107.32 L747.53,108.4 M748.78,110 L747.99,111.05 L747.55,112.1 L747.68,113.15 L748.3,114.2 L749.14,115.25 L749.82,116.3 L750.02,117.35 L749.66,118.4 L748.9,119.45 L748.09,120.5 L747.58,121.55 L747.63,122.6 L748.19,123.65 L749.02,124.7 L749.75,125.75 L750.03,126.8 M753.78,91.05 L754.57,92.13 L755.01,93.22 L754.88,94.3 L754.26,95.39 L753.42,96.47 L752.74,97.56 L752.54,98.64 L752.9,99.72 L753.66,100.81 L754.47,101.89 L754.98,102.98 L754.93,104.06 L754.37,105.15 L753.54,106.23 L752.81,107.32 L752.53,108.4 M753.78,110 L752.99,111.05 L752.55,112.1 L752.68,113.15 L753.3,114.2 L754.14,115.25 L754.82,116.3 L755.02,117.35 L754.66,118.4 L753.9,119.45 L753.09,120.5 L752.58,121.55 L752.63,122.6 L753.19,123.65 L754.02,124.7 L754.75,125.75 L755.03,126.8" fill="none"/></g><g font-family="Liberation Sans, sans-serif" fill="#111" stroke="#111" stroke-width="0.25"><text transform="translate(110.22,39.9) scale(0.993,1)" font-size="15.3">Anaerobiosis</text><text transform="translate(369.72,39.9) scale(0.991,1)" font-size="15.3">Aerobiosis</text><text transform="translate(627.62,39.9) scale(0.996,1)" font-size="15.3">Anaerobiosis</text><line x1="223.5" y1="38" x2="321.4" y2="38" stroke="#000" stroke-width="3.6"/><path d="M320.4,33.7 L334.9,38 L320.4,42.3 Z" fill="#000" stroke="#000" stroke-width="0.6" stroke-linejoin="round"/><line x1="490" y1="38.3" x2="587.8" y2="38.3" stroke="#000" stroke-width="3.6"/><path d="M586.8,34 L601.3,38.3 L586.8,42.6 Z" fill="#000" stroke="#000" stroke-width="0.6" stroke-linejoin="round"/><line x1="223.5" y1="182.9" x2="321.4" y2="182.9" stroke="#000" stroke-width="3.6"/><path d="M320.4,178.6 L334.9,182.9 L320.4,187.2 Z" fill="#000" stroke="#000" stroke-width="0.6" stroke-linejoin="round"/><line x1="490" y1="183.2" x2="587.8" y2="183.2" stroke="#000" stroke-width="3.6"/><path d="M586.8,178.9 L601.3,183.2 L586.8,187.5 Z" fill="#000" stroke="#000" stroke-width="0.6" stroke-linejoin="round"/><g transform="translate(0,0)"><path d="M120.5,80 V72 C120,61.3 143.5,61.3 143,72 V80" fill="none" stroke="#676767" stroke-width="4.7"/><path d="M161.5,80 V72 C161,61.3 184.5,61.3 184,72 V80" fill="none" stroke="#676767" stroke-width="4.7"/><path d="M120.5,135 V146 A8,8 0 1 1 105.19,142.75" fill="none" stroke="#676767" stroke-width="4.7"/><path d="M184,135 V146 A8,8 0 1 0 199.31,142.75" fill="none" stroke="#676767" stroke-width="4.7"/><path d="M161,136 L152.4,162.5 L145.8,185 L137.1,215 L135.5,224 L115,278 L113.5,283.2 L107.5,310" fill="none" stroke="#676767" stroke-width="4.7" stroke-linejoin="round"/><path d="M143.8,136 L152.4,162.5 L159.1,185 L167.8,215 L169.4,224 L189.9,278 L191.4,283.2 L197.5,310" fill="none" stroke="#676767" stroke-width="4.7" stroke-linejoin="round"/><path d="M95,364 C102,377 122,382.5 142,382 C152,381.5 162,379.5 167.5,371" fill="none" stroke="#676767" stroke-width="4.7" stroke-linejoin="round"/><path d="M210.5,364 C203.5,377 183.5,382.5 163.5,382 C153.5,381.5 143.5,379.5 138,371" fill="none" stroke="#676767" stroke-width="4.7" stroke-linejoin="round"/><rect x="114.9" y="79.2" width="11.2" height="57.4" rx="4.6" ry="3.8" fill="url(#hg)"/><rect x="114.9" y="79.2" width="11.2" height="57.4" rx="4.6" ry="3.8" fill="url(#hv)" stroke="#0d0d0d" stroke-width="1.6"/><rect x="137.4" y="79.2" width="11.2" height="57.4" rx="4.6" ry="3.8" fill="url(#hg)"/><rect x="137.4" y="79.2" width="11.2" height="57.4" rx="4.6" ry="3.8" fill="url(#hv)" stroke="#0d0d0d" stroke-width="1.6"/><rect x="155.9" y="79.2" width="11.2" height="57.4" rx="4.6" ry="3.8" fill="url(#hg)"/><rect x="155.9" y="79.2" width="11.2" height="57.4" rx="4.6" ry="3.8" fill="url(#hv)" stroke="#0d0d0d" stroke-width="1.6"/><rect x="178.4" y="79.2" width="11.2" height="57.4" rx="4.6" ry="3.8" fill="url(#hg)"/><rect x="178.4" y="79.2" width="11.2" height="57.4" rx="4.6" ry="3.8" fill="url(#hv)" stroke="#0d0d0d" stroke-width="1.6"/><g transform="translate(125.9,249) rotate(12.5)"><rect x="-12.25" y="-28.15" width="24.5" height="56.3" rx="3.2" fill="#fff" stroke="#8a8a8a" stroke-width="4.2"/><text transform="translate(0,-16) rotate(0) translate(-5.4,5.18) scale(1.000,1)" font-size="15">H</text><text transform="translate(0,21) rotate(0) translate(-5.66,5.18) scale(1.000,1)" font-size="15">G</text></g><g transform="translate(178.9,249) rotate(-12.5)"><rect x="-12.25" y="-28.15" width="24.5" height="56.3" rx="3.2" fill="#fff" stroke="#8a8a8a" stroke-width="4.2"/><text transform="translate(0,-16) rotate(0) translate(-5.4,5.18) scale(1.000,1)" font-size="15">H</text><text transform="translate(0,21) rotate(0) translate(-5.66,5.18) scale(1.000,1)" font-size="15">G</text></g><g transform="translate(97.6,335.9) rotate(12)"><ellipse cx="0" cy="0" rx="14" ry="29.8" fill="#fff" stroke="#8a8a8a" stroke-width="4.0"/></g><text transform="translate(98.4,336.5) rotate(17) translate(-5.51,5.04) scale(1.000,1)" font-size="14.6">D</text><g transform="translate(208.6,336) rotate(-12)"><ellipse cx="0" cy="0" rx="14" ry="29.8" fill="#fff" stroke="#8a8a8a" stroke-width="4.0"/></g><text transform="translate(209.6,336.8) rotate(-17) translate(-5.51,5.04) scale(1.000,1)" font-size="14.6">D</text><g transform="translate(132.4,340.8) rotate(-6.5)"><rect x="-12.15" y="-29.75" width="24.3" height="59.5" rx="3.2" fill="#fff" stroke="#8a8a8a" stroke-width="4.2"/><text transform="translate(1.6,1.8) rotate(0) translate(-5.4,5.17) scale(1.000,1)" font-size="15">H</text></g><g transform="translate(172.1,341.5) rotate(6.5)"><rect x="-12.15" y="-29.75" width="24.3" height="59.5" rx="3.2" fill="#fff" stroke="#8a8a8a" stroke-width="4.2"/><text transform="translate(1,1.8) rotate(0) translate(-5.4,5.17) scale(1.000,1)" font-size="15">H</text></g><text transform="translate(132.9,169.9) rotate(14) translate(-13.89,3.86) scale(1.000,1)" font-size="11.2">HS-C</text><text transform="translate(173.5,168.9) rotate(-12) translate(-13.5,3.86) scale(1.000,1)" font-size="11.2">C-SH</text><text transform="translate(125.9,193.1) rotate(14) translate(-13.89,3.86) scale(1.000,1)" font-size="11.2">HS-C</text><text transform="translate(180.3,192.2) rotate(-12) translate(-13.5,3.86) scale(1.000,1)" font-size="11.2">C-SH</text></g><g transform="translate(515,0)"><path d="M120.5,80 V72 C120,61.3 143.5,61.3 143,72 V80" fill="none" stroke="#676767" stroke-width="4.7"/><path d="M161.5,80 V72 C161,61.3 184.5,61.3 184,72 V80" fill="none" stroke="#676767" stroke-width="4.7"/><path d="M120.5,135 V146 A8,8 0 1 1 105.19,142.75" fill="none" stroke="#676767" stroke-width="4.7"/><path d="M184,135 V146 A8,8 0 1 0 199.31,142.75" fill="none" stroke="#676767" stroke-width="4.7"/><path d="M161,136 L152.4,162.5 L145.8,185 L137.1,215 L135.5,224 L115,278 L113.5,283.2 L107.5,310" fill="none" stroke="#676767" stroke-width="4.7" stroke-linejoin="round"/><path d="M143.8,136 L152.4,162.5 L159.1,185 L167.8,215 L169.4,224 L189.9,278 L191.4,283.2 L197.5,310" fill="none" stroke="#676767" stroke-width="4.7" stroke-linejoin="round"/><path d="M95,364 C102,377 122,382.5 142,382 C152,381.5 162,379.5 167.5,371" fill="none" stroke="#676767" stroke-width="4.7" stroke-linejoin="round"/><path d="M210.5,364 C203.5,377 183.5,382.5 163.5,382 C153.5,381.5 143.5,379.5 138,371" fill="none" stroke="#676767" stroke-width="4.7" stroke-linejoin="round"/><rect x="114.9" y="79.2" width="11.2" height="57.4" rx="4.6" ry="3.8" fill="url(#hg)"/><rect x="114.9" y="79.2" width="11.2" height="57.4" rx="4.6" ry="3.8" fill="url(#hv)" stroke="#0d0d0d" stroke-width="1.6"/><rect x="137.4" y="79.2" width="11.2" height="57.4" rx="4.6" ry="3.8" fill="url(#hg)"/><rect x="137.4" y="79.2" width="11.2" height="57.4" rx="4.6" ry="3.8" fill="url(#hv)" stroke="#0d0d0d" stroke-width="1.6"/><rect x="155.9" y="79.2" width="11.2" height="57.4" rx="4.6" ry="3.8" fill="url(#hg)"/><rect x="155.9" y="79.2" width="11.2" height="57.4" rx="4.6" ry="3.8" fill="url(#hv)" stroke="#0d0d0d" stroke-width="1.6"/><rect x="178.4" y="79.2" width="11.2" height="57.4" rx="4.6" ry="3.8" fill="url(#hg)"/><rect x="178.4" y="79.2" width="11.2" height="57.4" rx="4.6" ry="3.8" fill="url(#hv)" stroke="#0d0d0d" stroke-width="1.6"/><g transform="translate(125.9,249) rotate(12.5)"><rect x="-12.25" y="-28.15" width="24.5" height="56.3" rx="3.2" fill="#fff" stroke="#8a8a8a" stroke-width="4.2"/><text transform="translate(0,-16) rotate(0) translate(-5.4,5.18) scale(1.000,1)" font-size="15">H</text><text transform="translate(0,21) rotate(0) translate(-5.66,5.18) scale(1.000,1)" font-size="15">G</text></g><g transform="translate(178.9,249) rotate(-12.5)"><rect x="-12.25" y="-28.15" width="24.5" height="56.3" rx="3.2" fill="#fff" stroke="#8a8a8a" stroke-width="4.2"/><text transform="translate(0,-16) rotate(0) translate(-5.4,5.18) scale(1.000,1)" font-size="15">H</text><text transform="translate(0,21) rotate(0) translate(-5.66,5.18) scale(1.000,1)" font-size="15">G</text></g><g transform="translate(97.6,335.9) rotate(12)"><ellipse cx="0" cy="0" rx="14" ry="29.8" fill="#fff" stroke="#8a8a8a" stroke-width="4.0"/></g><text transform="translate(98.4,336.5) rotate(17) translate(-5.51,5.04) scale(1.000,1)" font-size="14.6">D</text><g transform="translate(208.6,336) rotate(-12)"><ellipse cx="0" cy="0" rx="14" ry="29.8" fill="#fff" stroke="#8a8a8a" stroke-width="4.0"/></g><text transform="translate(209.6,336.8) rotate(-17) translate(-5.51,5.04) scale(1.000,1)" font-size="14.6">D</text><g transform="translate(132.4,340.8) rotate(-6.5)"><rect x="-12.15" y="-29.75" width="24.3" height="59.5" rx="3.2" fill="#fff" stroke="#8a8a8a" stroke-width="4.2"/><text transform="translate(1.6,1.8) rotate(0) translate(-5.4,5.17) scale(1.000,1)" font-size="15">H</text></g><g transform="translate(172.1,341.5) rotate(6.5)"><rect x="-12.15" y="-29.75" width="24.3" height="59.5" rx="3.2" fill="#fff" stroke="#8a8a8a" stroke-width="4.2"/><text transform="translate(1,1.8) rotate(0) translate(-5.4,5.17) scale(1.000,1)" font-size="15">H</text></g><text transform="translate(132.9,169.9) rotate(14) translate(-13.89,3.86) scale(1.000,1)" font-size="11.2">HS-C</text><text transform="translate(173.5,168.9) rotate(-12) translate(-13.5,3.86) scale(1.000,1)" font-size="11.2">C-SH</text><text transform="translate(125.9,193.1) rotate(14) translate(-13.89,3.86) scale(1.000,1)" font-size="11.2">HS-C</text><text transform="translate(180.3,192.2) rotate(-12) translate(-13.5,3.86) scale(1.000,1)" font-size="11.2">C-SH</text></g><path d="M363.7,80 V72 C363.2,61.3 386.6,61.3 386.1,72 V80" fill="none" stroke="#676767" stroke-width="4.7"/><path d="M424.5,80 V72 C424,61.3 448,61.3 447.5,72 V80" fill="none" stroke="#676767" stroke-width="4.7"/><path d="M363.7,135 V146 A8,8 0 1 1 348.39,142.75" fill="none" stroke="#676767" stroke-width="4.7"/><path d="M447.5,135 V146 A8,8 0 1 0 462.81,142.75" fill="none" stroke="#676767" stroke-width="4.7"/><path d="M386.1,136 V305" fill="none" stroke="#676767" stroke-width="4.7" stroke-linejoin="round"/><path d="M425.4,136 V305" fill="none" stroke="#676767" stroke-width="4.7" stroke-linejoin="round"/><path d="M351,366 C352,389 384,389 385.4,367" fill="none" stroke="#676767" stroke-width="4.7" stroke-linejoin="round"/><path d="M426.3,367 C428,389 462,389 464,366" fill="none" stroke="#676767" stroke-width="4.7" stroke-linejoin="round"/><rect x="358.1" y="79.2" width="11.2" height="57.4" rx="4.6" ry="3.8" fill="url(#hg)"/><rect x="358.1" y="79.2" width="11.2" height="57.4" rx="4.6" ry="3.8" fill="url(#hv)" stroke="#0d0d0d" stroke-width="1.6"/><rect x="380.5" y="79.2" width="11.2" height="57.4" rx="4.6" ry="3.8" fill="url(#hg)"/><rect x="380.5" y="79.2" width="11.2" height="57.4" rx="4.6" ry="3.8" fill="url(#hv)" stroke="#0d0d0d" stroke-width="1.6"/><rect x="418.9" y="79.2" width="11.2" height="57.4" rx="4.6" ry="3.8" fill="url(#hg)"/><rect x="418.9" y="79.2" width="11.2" height="57.4" rx="4.6" ry="3.8" fill="url(#hv)" stroke="#0d0d0d" stroke-width="1.6"/><rect x="441.9" y="79.2" width="11.2" height="57.4" rx="4.6" ry="3.8" fill="url(#hg)"/><rect x="441.9" y="79.2" width="11.2" height="57.4" rx="4.6" ry="3.8" fill="url(#hv)" stroke="#0d0d0d" stroke-width="1.6"/><g transform="translate(385.9,248) rotate(0)"><rect x="-12.6" y="-30" width="25.2" height="60" rx="3.2" fill="#fff" stroke="#8a8a8a" stroke-width="4.2"/><text transform="translate(0,-16) rotate(0) translate(-5.26,5.04) scale(1.000,1)" font-size="14.6">H</text><text transform="translate(0,21) rotate(0) translate(-5.51,5.04) scale(1.000,1)" font-size="14.6">G</text></g><g transform="translate(425.8,248) rotate(0)"><rect x="-12.2" y="-30" width="24.4" height="60" rx="3.2" fill="#fff" stroke="#8a8a8a" stroke-width="4.2"/><text transform="translate(0,-16) rotate(0) translate(-5.26,5.04) scale(1.000,1)" font-size="14.6">H</text><text transform="translate(0,21) rotate(0) translate(-5.51,5.04) scale(1.000,1)" font-size="14.6">G</text></g><path d="M386.1,216 V219.8" fill="none" stroke="#676767" stroke-width="4.6" stroke-linejoin="round"/><path d="M425.4,216 V219.8" fill="none" stroke="#676767" stroke-width="4.6" stroke-linejoin="round"/><g transform="translate(385.4,336) rotate(3)"><ellipse cx="0" cy="0" rx="13.2" ry="30.4" fill="#fff" stroke="#8a8a8a" stroke-width="4.0"/></g><text transform="translate(386.2,337) rotate(0) translate(-5.51,5.04) scale(1.000,1)" font-size="14.6">D</text><g transform="translate(426.3,336) rotate(-3)"><ellipse cx="0" cy="0" rx="13.2" ry="30.4" fill="#fff" stroke="#8a8a8a" stroke-width="4.0"/></g><text transform="translate(426.3,337) rotate(0) translate(-5.51,5.04) scale(1.000,1)" font-size="14.6">D</text><g transform="translate(348,336.5) rotate(0)"><rect x="-12.75" y="-29.85" width="25.5" height="59.7" rx="3.2" fill="#fff" stroke="#8a8a8a" stroke-width="4.2"/><text transform="translate(1,1.5) rotate(0) translate(-5.26,5.04) scale(1.000,1)" font-size="14.6">H</text></g><g transform="translate(466,336.5) rotate(0)"><rect x="-12.4" y="-29.85" width="24.8" height="59.7" rx="3.2" fill="#fff" stroke="#8a8a8a" stroke-width="4.2"/><text transform="translate(2,1.5) rotate(0) translate(-5.26,5.04) scale(1.000,1)" font-size="14.6">H</text></g><text transform="translate(380.25,174.9) scale(1.038,1)" font-size="12.5">C-S-S-C</text><text transform="translate(380.25,201.9) scale(1.038,1)" font-size="12.5">C-S-S-C</text><text transform="translate(53.71,156.9) scale(1.071,1)" font-size="16.2">ArcB</text><path d="M205.3,90.94 L204.38,91.27 L203.47,91.66 L202.59,92.1 L201.73,92.59 L200.9,93.13 L200.1,93.72 L199.33,94.35 L198.59,95.03 L197.89,95.75 L197.22,96.52 L196.59,97.31 L196.01,98.15 L195.47,99.02 L194.97,99.92 L194.52,100.85 L194.12,101.8 L193.76,102.77 L193.46,103.77 L193.2,104.78 L193,105.8 L192.85,106.84 L192.75,107.88 L192.7,108.92 L192.71,109.97 L192.77,111.02 L192.88,112.06 L193.05,113.09 L193.27,114.11 L193.54,115.11 L193.85,116.1 L194.22,117.07 L194.64,118.02 L195.1,118.94 L195.61,119.83 L196.17,120.69 L196.77,121.51 L197.4,122.3 L198.08,123.05 L198.79,123.76 L199.54,124.43" fill="none" stroke="#000" stroke-width="2.9"/><path d="M208.2,128.8 L197.92,127.64 L201.16,121.22 Z" fill="#000" stroke="#000" stroke-width="0.5" stroke-linejoin="round"/><path d="M259.92,128.21 L260.84,128 L261.74,127.73 L262.64,127.4 L263.51,127.02 L264.36,126.58 L265.2,126.09 L266,125.54 L266.78,124.95 L267.53,124.31 L268.24,123.62 L268.92,122.89 L269.56,122.11 L270.17,121.3 L270.73,120.45 L271.25,119.57 L271.72,118.65 L272.15,117.71 L272.53,116.74 L272.87,115.75 L273.15,114.74 L273.38,113.71 L273.56,112.67 L273.7,111.62 L273.77,110.56 L273.8,109.5 L273.77,108.44 L273.7,107.38 L273.56,106.33 L273.38,105.29 L273.15,104.26 L272.87,103.25 L272.53,102.26 L272.15,101.29 L271.72,100.35 L271.25,99.43 L270.73,98.55 L270.17,97.7 L269.56,96.89 L268.92,96.11 L268.24,95.38" fill="none" stroke="#000" stroke-width="2.9"/><path d="M258,91.2 L269.6,92.05 L266.88,98.71 Z" fill="#000" stroke="#000" stroke-width="0.5" stroke-linejoin="round"/><text transform="translate(219.66,96.8) scale(1.128,1)" font-size="15.8">UQ</text><text transform="translate(211.59,134.1) scale(1.110,1)" font-size="15.8">UQH</text><text transform="translate(250.39,140.4) scale(1.291,1)" font-size="12.6">2</text><ellipse cx="294.75" cy="109.55" rx="18.1" ry="26.9" fill="#d3d3d3" stroke="#111" stroke-width="1.6"/><text transform="translate(284.53,115.7) scale(0.985,1)" font-size="15.6">Cit</text><path d="M276.51,153.34 L276.79,152.36 L277.12,151.4 L277.51,150.46 L277.95,149.54 L278.44,148.64 L278.99,147.77 L279.59,146.92 L280.24,146.11 L280.93,145.33 L281.67,144.59 L282.46,143.89 L283.28,143.22 L284.14,142.6 L285.03,142.03 L285.96,141.5 L286.92,141.02 L287.91,140.58 L288.91,140.2 L289.94,139.87 L290.99,139.59 L292.06,139.36 L293.13,139.19 L294.21,139.07 L295.3,139.01 L296.39,139 L297.48,139.05 L298.57,139.15 L299.64,139.31 L300.71,139.52 L301.76,139.78 L302.8,140.1 L303.81,140.47 L304.81,140.89 L305.77,141.36 L306.71,141.88 L307.61,142.44 L308.48,143.05 L309.32,143.7 L310.11,144.39 L310.86,145.12" fill="none" stroke="#000" stroke-width="2.9"/><path d="M315.2,154.9 L307.57,146.58 L314.15,143.66 Z" fill="#000" stroke="#000" stroke-width="0.5" stroke-linejoin="round"/><text transform="translate(269.59,165.5) scale(0.918,1)" font-size="12.4">O</text><text transform="translate(278.23,168.7) scale(1.086,1)" font-size="8.7">2</text><text transform="translate(304.11,165.5) scale(0.792,1)" font-size="12.4">H</text><text transform="translate(311.96,168.7) scale(1.010,1)" font-size="8.7">2</text><text transform="translate(316.24,165.5) scale(1.001,1)" font-size="12.4">O</text><path d="M468.1,90.94 L467.18,91.27 L466.27,91.66 L465.39,92.1 L464.53,92.59 L463.7,93.13 L462.9,93.72 L462.13,94.35 L461.39,95.03 L460.69,95.75 L460.02,96.52 L459.39,97.31 L458.81,98.15 L458.27,99.02 L457.77,99.92 L457.32,100.85 L456.92,101.8 L456.56,102.77 L456.26,103.77 L456,104.78 L455.8,105.8 L455.65,106.84 L455.55,107.88 L455.5,108.92 L455.51,109.97 L455.57,111.02 L455.68,112.06 L455.85,113.09 L456.07,114.11 L456.34,115.11 L456.65,116.1 L457.02,117.07 L457.44,118.02 L457.9,118.94 L458.41,119.83 L458.97,120.69 L459.57,121.51 L460.2,122.3 L460.88,123.05 L461.59,123.76 L462.34,124.43" fill="none" stroke="#000" stroke-width="2.9"/><path d="M471,128 L460.97,127.76 L463.71,121.1 Z" fill="#000" stroke="#000" stroke-width="0.5" stroke-linejoin="round"/><path d="M524.42,128.21 L525.35,127.99 L526.27,127.72 L527.18,127.38 L528.06,126.99 L528.93,126.54 L529.77,126.04 L530.59,125.48 L531.37,124.87 L532.13,124.21 L532.85,123.51 L533.53,122.76 L534.18,121.97 L534.78,121.13 L535.35,120.26 L535.86,119.36 L536.33,118.42 L536.76,117.45 L537.13,116.46 L537.45,115.45 L537.73,114.42 L537.95,113.37 L538.12,112.31 L538.23,111.24 L538.29,110.16 L538.3,109.09 L538.25,108.01 L538.15,106.94 L537.99,105.87 L537.78,104.82 L537.52,103.79 L537.21,102.77 L536.85,101.77 L536.44,100.8 L535.98,99.86 L535.47,98.94 L534.92,98.07 L534.32,97.22 L533.69,96.42 L533.01,95.66 L532.3,94.95" fill="none" stroke="#000" stroke-width="2.9"/><path d="M523,91.3 L533.61,91.59 L530.98,98.3 Z" fill="#000" stroke="#000" stroke-width="0.5" stroke-linejoin="round"/><text transform="translate(473.26,96.8) scale(1.140,1)" font-size="15.8">MQH</text><text transform="translate(514.49,102.6) scale(1.190,1)" font-size="12">2</text><text transform="translate(482.43,135.1) scale(1.164,1)" font-size="15.8">MQ</text><ellipse cx="558.6" cy="109.5" rx="18.3" ry="26.8" fill="#d3d3d3" stroke="#111" stroke-width="1.6"/><text transform="translate(542.76,115.6) scale(0.985,1)" font-size="15.7">NDH</text><path d="M539.21,153.34 L539.49,152.36 L539.82,151.4 L540.21,150.46 L540.65,149.54 L541.14,148.64 L541.69,147.77 L542.29,146.92 L542.94,146.11 L543.63,145.33 L544.37,144.59 L545.16,143.89 L545.98,143.22 L546.84,142.6 L547.73,142.03 L548.66,141.5 L549.62,141.02 L550.61,140.58 L551.61,140.2 L552.64,139.87 L553.69,139.59 L554.76,139.36 L555.83,139.19 L556.91,139.07 L558,139.01 L559.09,139 L560.18,139.05 L561.27,139.15 L562.34,139.31 L563.41,139.52 L564.46,139.78 L565.5,140.1 L566.51,140.47 L567.51,140.89 L568.47,141.36 L569.41,141.88 L570.31,142.44 L571.18,143.05 L572.02,143.7 L572.81,144.39 L573.56,145.12" fill="none" stroke="#000" stroke-width="2.9"/><path d="M577.7,154.8 L570.25,146.54 L576.87,143.71 Z" fill="#000" stroke="#000" stroke-width="0.5" stroke-linejoin="round"/><text transform="translate(516.41,165.1) scale(1.073,1)" font-size="11.5">NAD</text><text transform="translate(541.53,161.2) scale(0.873,1)" font-size="8.5">+</text><text transform="translate(562.94,165.1) scale(1.042,1)" font-size="11.5">NADH</text></g></svg>
<div class="cap"><div class="l" style="top:427.55px">Figura 5. Modelo simplificado de activación e inactivación de ArcB. Cuando la bacteria cambia sus condiciones de crecimiento</div>
<div class="l" style="top:443.80px">anaeróbicas a aeróbicas, las quinonas se oxidan. Esto permite la transferencia de electrones desde la Cys-180 de ArcB a</div>
<div class="l" style="top:458.50px">las quinonas, lo que permite la formación de un enlace disulfuro intermolecular entre las Cys-180 de los dos monómeros,</div>
<div class="l" style="top:475.10px">resultando en una disminución significativa de la actividad de la cinasa ArcB. Como los electrones rápidamente fluyen hacia</div>
<div class="l" style="top:490.20px">el oxígeno más próximo vía Citocromo Oxidasa bd o bo, las quinonas mantienen su estado oxidado e inducen la formación de</div>
<div class="l" style="top:505.65px">un segundo enlace disulfuro entre los dos residuos Cys-241, dando como resultado el completo silenciamiento de la actividad</div>
<div class="l" style="top:521.60px">de la cinasa ArcB. Por el contrario, cuando las condiciones son microaeróbicas o cuando cambian de condiciones aeróbicas</div>
<div class="l" style="top:536.65px">a anaeróbicas, las ubiquinonas son gradualmente reemplazadas por menaquinonas,&nbsp; que en estado reducido (menaquinol)</div>
<div class="l" style="top:553.10px">son capaces de reducir los puentes disulfuro de ArcB, restaurando su conformación activa como cinasa y activando el sistema</div>
<div class="l last" style="top:567.70px">(tomado de Álvarez <i>et al</i>, 2013)<sup>10</sup>.</div></div>
</body></html>
